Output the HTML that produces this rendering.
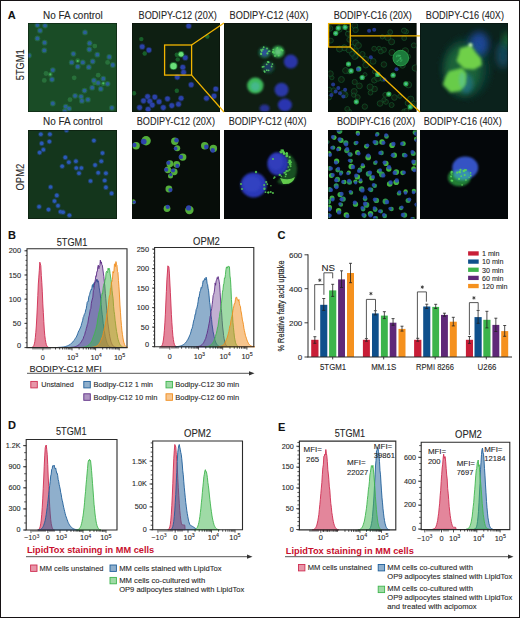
<!DOCTYPE html>
<html><head><meta charset="utf-8"><style>
html,body{margin:0;padding:0;background:#fff;}
svg{display:block;font-family:"Liberation Sans", sans-serif;}
</style></head><body>
<svg width="520" height="618" viewBox="0 0 520 618">
<rect width="520" height="618" fill="#fff"/>
<text x="7.8" y="18.6" font-size="11" font-weight="bold" fill="#111" stroke="#111" stroke-width="0.1">A</text>
<text x="8.1" y="238.8" font-size="11" font-weight="bold" fill="#111" stroke="#111" stroke-width="0.1">B</text>
<text x="277.6" y="239.2" font-size="11" font-weight="bold" fill="#111" stroke="#111" stroke-width="0.1">C</text>
<text x="8.1" y="429.3" font-size="11" font-weight="bold" fill="#111" stroke="#111" stroke-width="0.1">D</text>
<text x="278.1" y="430.6" font-size="11" font-weight="bold" fill="#111" stroke="#111" stroke-width="0.1">E</text>
<defs><filter id="b05" x="-50%" y="-50%" width="200%" height="200%"><feGaussianBlur stdDeviation="0.5"/></filter><filter id="b1" x="-50%" y="-50%" width="200%" height="200%"><feGaussianBlur stdDeviation="1"/></filter><filter id="b2" x="-50%" y="-50%" width="200%" height="200%"><feGaussianBlur stdDeviation="2"/></filter><filter id="b3" x="-50%" y="-50%" width="200%" height="200%"><feGaussianBlur stdDeviation="3.5"/></filter><filter id="bc" x="-10%" y="-10%" width="120%" height="120%"><feGaussianBlur stdDeviation="0.75"/></filter><filter id="b15" x="-50%" y="-50%" width="200%" height="200%"><feGaussianBlur stdDeviation="1.5"/></filter>
<clipPath id="c00"><rect x="28" y="23" width="89" height="89"/></clipPath>
<clipPath id="c01"><rect x="132" y="23" width="88" height="89"/></clipPath>
<clipPath id="c02"><rect x="224" y="23" width="88" height="89"/></clipPath>
<clipPath id="c03"><rect x="328" y="23" width="88.5" height="89"/></clipPath>
<clipPath id="c04"><rect x="420" y="23" width="88" height="89"/></clipPath>
<clipPath id="c10"><rect x="28" y="130" width="89" height="89"/></clipPath>
<clipPath id="c11"><rect x="132" y="130" width="88" height="89"/></clipPath>
<clipPath id="c12"><rect x="224" y="130" width="88" height="89"/></clipPath>
<clipPath id="c13"><rect x="328" y="130" width="88.5" height="89"/></clipPath>
<clipPath id="c14"><rect x="420" y="130" width="88" height="89"/></clipPath>
</defs>
<rect x="28" y="23" width="89" height="89" fill="#1a4c26"/>
<g clip-path="url(#c00)"><g filter="url(#bc)">
<circle cx="94.8" cy="46.1" r="2.4" fill="#2e7f45" opacity="0.7"/>
<circle cx="107.6" cy="62.4" r="2.4" fill="#2e7f45" opacity="0.7"/>
<circle cx="77.7" cy="60.7" r="2.4" fill="#2e7f45" opacity="0.7"/>
<circle cx="46.0" cy="73.5" r="2.4" fill="#2e7f45" opacity="0.7"/>
<circle cx="50.3" cy="74.4" r="2.4" fill="#2e7f45" opacity="0.7"/>
<circle cx="44.3" cy="80.4" r="2.4" fill="#2e7f45" opacity="0.7"/>
<circle cx="74.2" cy="77.8" r="2.4" fill="#2e7f45" opacity="0.7"/>
<circle cx="98.2" cy="75.2" r="2.4" fill="#2e7f45" opacity="0.7"/>
<circle cx="103.3" cy="83.8" r="2.4" fill="#2e7f45" opacity="0.7"/>
<circle cx="70.0" cy="99.7" r="2.4" fill="#2e7f45" opacity="0.7"/>
<circle cx="94.8" cy="82.9" r="2.4" fill="#2e7f45" opacity="0.7"/>
<circle cx="37.4" cy="25.1" r="2.9" fill="#2a7a5a" opacity="0.55"/>
<circle cx="37.4" cy="25.1" r="1.9" fill="#2c5ea8" opacity="0.85"/>
<circle cx="45.1" cy="25.6" r="2.9" fill="#2a7a5a" opacity="0.55"/>
<circle cx="45.1" cy="25.6" r="1.9" fill="#2c5ea8" opacity="0.85"/>
<circle cx="40.0" cy="30.7" r="2.9" fill="#2a7a5a" opacity="0.55"/>
<circle cx="40.0" cy="30.7" r="1.9" fill="#2c5ea8" opacity="0.85"/>
<circle cx="37.4" cy="38.4" r="2.9" fill="#2a7a5a" opacity="0.55"/>
<circle cx="37.4" cy="38.4" r="1.9" fill="#2c5ea8" opacity="0.85"/>
<circle cx="44.6" cy="42.7" r="2.9" fill="#2a7a5a" opacity="0.55"/>
<circle cx="44.6" cy="42.7" r="1.9" fill="#2c5ea8" opacity="0.85"/>
<circle cx="44.3" cy="50.4" r="2.9" fill="#2a7a5a" opacity="0.55"/>
<circle cx="44.3" cy="50.4" r="1.9" fill="#2c5ea8" opacity="0.85"/>
<circle cx="85.0" cy="32.4" r="2.9" fill="#2a7a5a" opacity="0.55"/>
<circle cx="85.0" cy="32.4" r="1.9" fill="#2c5ea8" opacity="0.85"/>
<circle cx="89.6" cy="43.2" r="2.9" fill="#2a7a5a" opacity="0.55"/>
<circle cx="89.6" cy="43.2" r="1.9" fill="#2c5ea8" opacity="0.85"/>
<circle cx="89.3" cy="49.5" r="2.9" fill="#2a7a5a" opacity="0.55"/>
<circle cx="89.3" cy="49.5" r="1.9" fill="#2c5ea8" opacity="0.85"/>
<circle cx="97.3" cy="54.7" r="2.9" fill="#2a7a5a" opacity="0.55"/>
<circle cx="97.3" cy="54.7" r="1.9" fill="#2c5ea8" opacity="0.85"/>
<circle cx="109.3" cy="56.9" r="2.9" fill="#2a7a5a" opacity="0.55"/>
<circle cx="109.3" cy="56.9" r="1.9" fill="#2c5ea8" opacity="0.85"/>
<circle cx="112.8" cy="65.0" r="2.9" fill="#2a7a5a" opacity="0.55"/>
<circle cx="112.8" cy="65.0" r="1.9" fill="#2c5ea8" opacity="0.85"/>
<circle cx="71.7" cy="62.4" r="2.9" fill="#2a7a5a" opacity="0.55"/>
<circle cx="71.7" cy="62.4" r="1.9" fill="#2c5ea8" opacity="0.85"/>
<circle cx="82.8" cy="62.4" r="2.9" fill="#2a7a5a" opacity="0.55"/>
<circle cx="82.8" cy="62.4" r="1.9" fill="#2c5ea8" opacity="0.85"/>
<circle cx="77.7" cy="66.7" r="2.9" fill="#2a7a5a" opacity="0.55"/>
<circle cx="77.7" cy="66.7" r="1.9" fill="#2c5ea8" opacity="0.85"/>
<circle cx="88.8" cy="67.2" r="2.9" fill="#2a7a5a" opacity="0.55"/>
<circle cx="88.8" cy="67.2" r="1.9" fill="#2c5ea8" opacity="0.85"/>
<circle cx="92.7" cy="61.5" r="2.9" fill="#2a7a5a" opacity="0.55"/>
<circle cx="92.7" cy="61.5" r="1.9" fill="#2c5ea8" opacity="0.85"/>
<circle cx="52.8" cy="70.1" r="2.9" fill="#2a7a5a" opacity="0.55"/>
<circle cx="52.8" cy="70.1" r="1.9" fill="#2c5ea8" opacity="0.85"/>
<circle cx="52.0" cy="79.5" r="2.9" fill="#2a7a5a" opacity="0.55"/>
<circle cx="52.0" cy="79.5" r="1.9" fill="#2c5ea8" opacity="0.85"/>
<circle cx="93.9" cy="80.4" r="2.9" fill="#2a7a5a" opacity="0.55"/>
<circle cx="93.9" cy="80.4" r="1.9" fill="#2c5ea8" opacity="0.85"/>
<circle cx="103.3" cy="78.7" r="2.9" fill="#2a7a5a" opacity="0.55"/>
<circle cx="103.3" cy="78.7" r="1.9" fill="#2c5ea8" opacity="0.85"/>
<circle cx="107.6" cy="83.8" r="2.9" fill="#2a7a5a" opacity="0.55"/>
<circle cx="107.6" cy="83.8" r="1.9" fill="#2c5ea8" opacity="0.85"/>
<circle cx="98.2" cy="82.9" r="2.9" fill="#2a7a5a" opacity="0.55"/>
<circle cx="98.2" cy="82.9" r="1.9" fill="#2c5ea8" opacity="0.85"/>
<circle cx="92.2" cy="87.7" r="2.9" fill="#2a7a5a" opacity="0.55"/>
<circle cx="92.2" cy="87.7" r="1.9" fill="#2c5ea8" opacity="0.85"/>
<circle cx="100.8" cy="88.9" r="2.9" fill="#2a7a5a" opacity="0.55"/>
<circle cx="100.8" cy="88.9" r="1.9" fill="#2c5ea8" opacity="0.85"/>
<circle cx="84.5" cy="90.6" r="2.9" fill="#2a7a5a" opacity="0.55"/>
<circle cx="84.5" cy="90.6" r="1.9" fill="#2c5ea8" opacity="0.85"/>
<circle cx="75.1" cy="95.8" r="2.9" fill="#2a7a5a" opacity="0.55"/>
<circle cx="75.1" cy="95.8" r="1.9" fill="#2c5ea8" opacity="0.85"/>
<circle cx="81.1" cy="96.6" r="2.9" fill="#2a7a5a" opacity="0.55"/>
<circle cx="81.1" cy="96.6" r="1.9" fill="#2c5ea8" opacity="0.85"/>
<circle cx="81.9" cy="100.9" r="2.9" fill="#2a7a5a" opacity="0.55"/>
<circle cx="81.9" cy="100.9" r="1.9" fill="#2c5ea8" opacity="0.85"/>
<circle cx="87.9" cy="99.7" r="2.9" fill="#2a7a5a" opacity="0.55"/>
<circle cx="87.9" cy="99.7" r="1.9" fill="#2c5ea8" opacity="0.85"/>
<circle cx="52.8" cy="103.5" r="2.9" fill="#2a7a5a" opacity="0.55"/>
<circle cx="52.8" cy="103.5" r="1.9" fill="#2c5ea8" opacity="0.85"/>
<circle cx="65.7" cy="106.6" r="2.9" fill="#2a7a5a" opacity="0.55"/>
<circle cx="65.7" cy="106.6" r="1.9" fill="#2c5ea8" opacity="0.85"/>
<circle cx="69.1" cy="108.6" r="2.9" fill="#2a7a5a" opacity="0.55"/>
<circle cx="69.1" cy="108.6" r="1.9" fill="#2c5ea8" opacity="0.85"/>
<circle cx="64.8" cy="111.2" r="2.9" fill="#2a7a5a" opacity="0.55"/>
<circle cx="64.8" cy="111.2" r="1.9" fill="#2c5ea8" opacity="0.85"/>
<circle cx="28.9" cy="55.5" r="2.9" fill="#2a7a5a" opacity="0.55"/>
<circle cx="28.9" cy="55.5" r="1.9" fill="#2c5ea8" opacity="0.85"/>
<circle cx="73.4" cy="53.8" r="2.9" fill="#2a7a5a" opacity="0.55"/>
<circle cx="73.4" cy="53.8" r="1.9" fill="#2c5ea8" opacity="0.85"/>
<circle cx="111.9" cy="107.8" r="2.9" fill="#2a7a5a" opacity="0.55"/>
<circle cx="111.9" cy="107.8" r="1.9" fill="#2c5ea8" opacity="0.85"/>
<circle cx="77.7" cy="61.0" r="1.1" fill="#4cc060"/>
<circle cx="103.3" cy="83.3" r="1.1" fill="#4cc060"/>
<circle cx="50.3" cy="74.4" r="1.1" fill="#4cc060"/>
</g></g>
<rect x="28.4" y="23.4" width="88.2" height="88.2" fill="none" stroke="#050a06" stroke-width="0.8" opacity="0.5"/>
<rect x="132" y="23" width="88" height="89" fill="#0e1f12"/>
<g clip-path="url(#c01)"><g filter="url(#bc)">
<circle cx="141.3" cy="39.1" r="2.2" fill="#1f7a35" opacity="0.7"/>
<circle cx="144.7" cy="53.5" r="2.2" fill="#1f7a35" opacity="0.7"/>
<circle cx="176.8" cy="90.7" r="2.2" fill="#1f7a35" opacity="0.7"/>
<circle cx="134.0" cy="93.2" r="2.2" fill="#1f7a35" opacity="0.7"/>
<circle cx="207.3" cy="36.5" r="2.2" fill="#1f7a35" opacity="0.7"/>
<circle cx="176.8" cy="54.8" r="2.2" fill="#1f7a35" opacity="0.7"/>
<circle cx="177.7" cy="59.4" r="2.2" fill="#1f7a35" opacity="0.7"/>
<circle cx="142.2" cy="46.7" r="3.1" fill="#283c98" opacity="0.5"/>
<circle cx="142.2" cy="46.7" r="2.3" fill="#2e46b8" opacity="0.85"/>
<circle cx="148.9" cy="50.1" r="3.1" fill="#283c98" opacity="0.5"/>
<circle cx="148.9" cy="50.1" r="2.3" fill="#2e46b8" opacity="0.85"/>
<circle cx="188.7" cy="26.0" r="3.1" fill="#283c98" opacity="0.5"/>
<circle cx="188.7" cy="26.0" r="2.3" fill="#2e46b8" opacity="0.85"/>
<circle cx="185.3" cy="57.7" r="3.1" fill="#283c98" opacity="0.5"/>
<circle cx="185.3" cy="57.7" r="2.3" fill="#2e46b8" opacity="0.85"/>
<circle cx="182.8" cy="67.3" r="3.1" fill="#283c98" opacity="0.5"/>
<circle cx="182.8" cy="67.3" r="2.3" fill="#2e46b8" opacity="0.85"/>
<circle cx="183.6" cy="72.4" r="3.1" fill="#283c98" opacity="0.5"/>
<circle cx="183.6" cy="72.4" r="2.3" fill="#2e46b8" opacity="0.85"/>
<circle cx="177.3" cy="77.1" r="3.1" fill="#283c98" opacity="0.5"/>
<circle cx="177.3" cy="77.1" r="2.3" fill="#2e46b8" opacity="0.85"/>
<circle cx="191.2" cy="84.8" r="3.1" fill="#283c98" opacity="0.5"/>
<circle cx="191.2" cy="84.8" r="2.3" fill="#2e46b8" opacity="0.85"/>
<circle cx="215.8" cy="89.0" r="3.1" fill="#283c98" opacity="0.5"/>
<circle cx="215.8" cy="89.0" r="2.3" fill="#2e46b8" opacity="0.85"/>
<circle cx="214.1" cy="96.1" r="3.1" fill="#283c98" opacity="0.5"/>
<circle cx="214.1" cy="96.1" r="2.3" fill="#2e46b8" opacity="0.85"/>
<circle cx="206.5" cy="98.3" r="3.1" fill="#283c98" opacity="0.5"/>
<circle cx="206.5" cy="98.3" r="2.3" fill="#2e46b8" opacity="0.85"/>
<circle cx="154.8" cy="97.1" r="3.1" fill="#283c98" opacity="0.5"/>
<circle cx="154.8" cy="97.1" r="2.3" fill="#2e46b8" opacity="0.85"/>
<circle cx="147.6" cy="96.6" r="3.1" fill="#283c98" opacity="0.5"/>
<circle cx="147.6" cy="96.6" r="2.3" fill="#2e46b8" opacity="0.85"/>
<circle cx="143.5" cy="100.8" r="3.1" fill="#283c98" opacity="0.5"/>
<circle cx="143.5" cy="100.8" r="2.3" fill="#2e46b8" opacity="0.85"/>
<circle cx="149.8" cy="101.2" r="3.1" fill="#283c98" opacity="0.5"/>
<circle cx="149.8" cy="101.2" r="2.3" fill="#2e46b8" opacity="0.85"/>
<circle cx="159.1" cy="101.7" r="3.1" fill="#283c98" opacity="0.5"/>
<circle cx="159.1" cy="101.7" r="2.3" fill="#2e46b8" opacity="0.85"/>
<circle cx="152.3" cy="105.1" r="3.1" fill="#283c98" opacity="0.5"/>
<circle cx="152.3" cy="105.1" r="2.3" fill="#2e46b8" opacity="0.85"/>
<circle cx="167.5" cy="98.8" r="3.1" fill="#283c98" opacity="0.5"/>
<circle cx="167.5" cy="98.8" r="2.3" fill="#2e46b8" opacity="0.85"/>
<circle cx="181.1" cy="98.3" r="3.1" fill="#283c98" opacity="0.5"/>
<circle cx="181.1" cy="98.3" r="2.3" fill="#2e46b8" opacity="0.85"/>
<circle cx="171.8" cy="105.6" r="3.1" fill="#283c98" opacity="0.5"/>
<circle cx="171.8" cy="105.6" r="2.3" fill="#2e46b8" opacity="0.85"/>
<circle cx="178.5" cy="104.2" r="3.1" fill="#283c98" opacity="0.5"/>
<circle cx="178.5" cy="104.2" r="2.3" fill="#2e46b8" opacity="0.85"/>
<circle cx="163.3" cy="107.6" r="3.1" fill="#283c98" opacity="0.5"/>
<circle cx="163.3" cy="107.6" r="2.3" fill="#2e46b8" opacity="0.85"/>
<circle cx="139.6" cy="107.6" r="3.1" fill="#283c98" opacity="0.5"/>
<circle cx="139.6" cy="107.6" r="2.3" fill="#2e46b8" opacity="0.85"/>
<circle cx="148.1" cy="109.3" r="3.1" fill="#283c98" opacity="0.5"/>
<circle cx="148.1" cy="109.3" r="2.3" fill="#2e46b8" opacity="0.85"/>
<circle cx="173.5" cy="66.1" r="4.0" fill="#2ea84a" opacity="0.6"/>
<circle cx="173.5" cy="66.1" r="3.2" fill="#6be07a"/>
<circle cx="181.1" cy="54.3" r="3.2" fill="#2ea84a" opacity="0.6"/>
<circle cx="181.1" cy="54.3" r="2.4" fill="#6be07a"/>
</g></g>
<rect x="132.4" y="23.4" width="87.2" height="88.2" fill="none" stroke="#050a06" stroke-width="0.8" opacity="0.5"/>
<rect x="224" y="23" width="88" height="89" fill="#0f1d12"/>
<g clip-path="url(#c02)"><g filter="url(#bc)">
<ellipse cx="290.8" cy="61.6" rx="7" ry="7" fill="#2a36a8" opacity="1" filter="url(#b1)"/>
<ellipse cx="281.5" cy="89.8" rx="7" ry="7" fill="#2a38a8" opacity="1" filter="url(#b1)"/>
<ellipse cx="284.9" cy="105" rx="7" ry="6.5" fill="#2a36b0" opacity="1" filter="url(#b1)"/>
<ellipse cx="264.6" cy="108.4" rx="5" ry="4" fill="#2a36a0" opacity="0.9" filter="url(#b1)"/>
<ellipse cx="264.6" cy="52.6" rx="6.3" ry="6" fill="#1a5a3a" opacity="1" filter="url(#b1)"/>
<ellipse cx="278.1" cy="51.8" rx="6.3" ry="6" fill="#2f9a4a" opacity="1" filter="url(#b1)"/>
<ellipse cx="268.3" cy="67.3" rx="6.6" ry="6.4" fill="#12402a" opacity="1" filter="url(#b1)"/>
<ellipse cx="255.3" cy="85.6" rx="8.2" ry="8" fill="#3cb85a" opacity="1" filter="url(#b1)"/>
<ellipse cx="255.3" cy="86.5" rx="4.5" ry="4.5" fill="#48b8a0" opacity="0.7" filter="url(#b1)"/>
<ellipse cx="278.1" cy="51.8" rx="3.5" ry="3.5" fill="#6ac880" opacity="0.9" filter="url(#b1)"/>
<ellipse cx="264.6" cy="52.6" rx="3.8" ry="3.8" fill="#3050b0" opacity="0.8" filter="url(#b1)"/>
<ellipse cx="268.3" cy="67.3" rx="4" ry="4" fill="#203a70" opacity="0.8" filter="url(#b1)"/>
<circle cx="269.7" cy="51.1" r="0.9" fill="#58d060" opacity="0.9"/>
<circle cx="267.4" cy="53.6" r="0.9" fill="#58d060" opacity="0.9"/>
<circle cx="267.0" cy="48.5" r="0.9" fill="#58d060" opacity="0.9"/>
<circle cx="262.9" cy="49.5" r="0.9" fill="#58d060" opacity="0.9"/>
<circle cx="261.1" cy="49.9" r="0.9" fill="#58d060" opacity="0.9"/>
<circle cx="261.8" cy="51.0" r="0.9" fill="#58d060" opacity="0.9"/>
<circle cx="261.1" cy="54.2" r="0.9" fill="#58d060" opacity="0.9"/>
<circle cx="263.7" cy="47.2" r="0.9" fill="#58d060" opacity="0.9"/>
<circle cx="268.6" cy="51.3" r="0.9" fill="#58d060" opacity="0.9"/>
<circle cx="261.3" cy="53.8" r="0.9" fill="#58d060" opacity="0.9"/>
<circle cx="267.4" cy="53.2" r="0.9" fill="#58d060" opacity="0.9"/>
<circle cx="261.1" cy="53.4" r="0.9" fill="#58d060" opacity="0.9"/>
<circle cx="264.3" cy="71.1" r="0.9" fill="#58d060" opacity="0.9"/>
<circle cx="263.8" cy="66.6" r="0.9" fill="#58d060" opacity="0.9"/>
<circle cx="268.6" cy="70.3" r="0.9" fill="#58d060" opacity="0.9"/>
<circle cx="266.8" cy="70.2" r="0.9" fill="#58d060" opacity="0.9"/>
<circle cx="262.5" cy="66.9" r="0.9" fill="#58d060" opacity="0.9"/>
<circle cx="266.7" cy="64.3" r="0.9" fill="#58d060" opacity="0.9"/>
<circle cx="272.4" cy="64.1" r="0.9" fill="#58d060" opacity="0.9"/>
<circle cx="267.7" cy="61.8" r="0.9" fill="#58d060" opacity="0.9"/>
<circle cx="268.7" cy="62.1" r="0.9" fill="#58d060" opacity="0.9"/>
<circle cx="264.8" cy="71.9" r="0.9" fill="#58d060" opacity="0.9"/>
<circle cx="271.6" cy="66.5" r="0.9" fill="#58d060" opacity="0.9"/>
<circle cx="268.4" cy="62.3" r="0.9" fill="#58d060" opacity="0.9"/>
<circle cx="274.0" cy="52.8" r="0.9" fill="#58d060" opacity="0.9"/>
<circle cx="272.8" cy="52.1" r="0.9" fill="#58d060" opacity="0.9"/>
<circle cx="273.1" cy="51.8" r="0.9" fill="#58d060" opacity="0.9"/>
<circle cx="275.0" cy="55.9" r="0.9" fill="#58d060" opacity="0.9"/>
<circle cx="281.3" cy="49.4" r="0.9" fill="#58d060" opacity="0.9"/>
<circle cx="273.3" cy="49.6" r="0.9" fill="#58d060" opacity="0.9"/>
<circle cx="277.4" cy="47.8" r="0.9" fill="#58d060" opacity="0.9"/>
<circle cx="278.7" cy="55.4" r="0.9" fill="#58d060" opacity="0.9"/>
<circle cx="277.1" cy="48.8" r="0.9" fill="#58d060" opacity="0.9"/>
<circle cx="281.0" cy="49.9" r="0.9" fill="#58d060" opacity="0.9"/>
<circle cx="281.2" cy="49.9" r="0.9" fill="#58d060" opacity="0.9"/>
<circle cx="282.6" cy="50.5" r="0.9" fill="#58d060" opacity="0.9"/>
</g></g>
<rect x="224.4" y="23.4" width="87.2" height="88.2" fill="none" stroke="#050a06" stroke-width="0.8" opacity="0.5"/>
<rect x="328" y="23" width="88.5" height="89" fill="#06100b"/>
<g clip-path="url(#c03)"><g filter="url(#bc)">
<circle cx="349.2" cy="71.5" r="2.4" fill="#0a2214" stroke="#185a2c" stroke-width="0.9" opacity="0.75"/>
<circle cx="381.8" cy="78.7" r="2.1" fill="#0a2214" stroke="#185a2c" stroke-width="0.9" opacity="0.75"/>
<circle cx="329.2" cy="97.6" r="2.3" fill="#0a2214" stroke="#185a2c" stroke-width="0.9" opacity="0.75"/>
<circle cx="348.9" cy="111.7" r="2.6" fill="#0a2214" stroke="#185a2c" stroke-width="0.9" opacity="0.75"/>
<circle cx="402.5" cy="65.4" r="2.8" fill="#0a2214" stroke="#185a2c" stroke-width="0.9" opacity="0.75"/>
<circle cx="341.4" cy="79.5" r="3.0" fill="#0a2214" stroke="#185a2c" stroke-width="0.9" opacity="0.75"/>
<circle cx="374.6" cy="89.0" r="2.8" fill="#0a2214" stroke="#185a2c" stroke-width="0.9" opacity="0.75"/>
<circle cx="333.7" cy="90.5" r="2.7" fill="#0a2214" stroke="#185a2c" stroke-width="0.9" opacity="0.75"/>
<circle cx="354.8" cy="25.8" r="3.0" fill="#0a2214" stroke="#185a2c" stroke-width="0.9" opacity="0.75"/>
<circle cx="370.1" cy="87.0" r="3.1" fill="#0a2214" stroke="#185a2c" stroke-width="0.9" opacity="0.75"/>
<circle cx="391.6" cy="105.0" r="2.5" fill="#0a2214" stroke="#185a2c" stroke-width="0.9" opacity="0.75"/>
<circle cx="399.3" cy="62.6" r="3.1" fill="#0a2214" stroke="#185a2c" stroke-width="0.9" opacity="0.75"/>
<circle cx="406.3" cy="31.7" r="2.2" fill="#0a2214" stroke="#185a2c" stroke-width="0.9" opacity="0.75"/>
<circle cx="347.3" cy="109.0" r="2.5" fill="#0a2214" stroke="#185a2c" stroke-width="0.9" opacity="0.75"/>
<circle cx="383.8" cy="49.8" r="2.6" fill="#0a2214" stroke="#185a2c" stroke-width="0.9" opacity="0.75"/>
<circle cx="362.4" cy="54.2" r="2.7" fill="#0a2214" stroke="#185a2c" stroke-width="0.9" opacity="0.75"/>
<circle cx="380.0" cy="103.5" r="2.8" fill="#0a2214" stroke="#185a2c" stroke-width="0.9" opacity="0.75"/>
<circle cx="410.7" cy="99.3" r="3.2" fill="#0a2214" stroke="#185a2c" stroke-width="0.9" opacity="0.75"/>
<circle cx="387.8" cy="37.5" r="3.0" fill="#0a2214" stroke="#185a2c" stroke-width="0.9" opacity="0.75"/>
<circle cx="413.9" cy="103.6" r="2.7" fill="#0a2214" stroke="#185a2c" stroke-width="0.9" opacity="0.75"/>
<circle cx="391.6" cy="41.8" r="3.0" fill="#0a2214" stroke="#185a2c" stroke-width="0.9" opacity="0.75"/>
<circle cx="379.1" cy="48.4" r="2.1" fill="#0a2214" stroke="#185a2c" stroke-width="0.9" opacity="0.75"/>
<circle cx="404.0" cy="111.1" r="2.1" fill="#0a2214" stroke="#185a2c" stroke-width="0.9" opacity="0.75"/>
<circle cx="399.3" cy="59.5" r="2.2" fill="#0a2214" stroke="#185a2c" stroke-width="0.9" opacity="0.75"/>
<circle cx="354.2" cy="91.5" r="3.0" fill="#0a2214" stroke="#185a2c" stroke-width="0.9" opacity="0.75"/>
<circle cx="331.9" cy="77.7" r="2.1" fill="#0a2214" stroke="#185a2c" stroke-width="0.9" opacity="0.75"/>
<circle cx="392.0" cy="52.5" r="3.1" fill="#0a2214" stroke="#185a2c" stroke-width="0.9" opacity="0.75"/>
<circle cx="415.3" cy="68.0" r="3.2" fill="#0a2214" stroke="#185a2c" stroke-width="0.9" opacity="0.75"/>
<circle cx="355.6" cy="29.9" r="2.7" fill="#0a2214" stroke="#185a2c" stroke-width="0.9" opacity="0.75"/>
<circle cx="330.8" cy="40.6" r="2.5" fill="#0a2214" stroke="#185a2c" stroke-width="0.9" opacity="0.75"/>
<circle cx="382.4" cy="36.9" r="2.1" fill="#0a2214" stroke="#185a2c" stroke-width="0.9" opacity="0.75"/>
<circle cx="405.3" cy="50.9" r="3.2" fill="#0a2214" stroke="#185a2c" stroke-width="0.9" opacity="0.75"/>
<circle cx="407.8" cy="56.6" r="2.6" fill="#0a2214" stroke="#185a2c" stroke-width="0.9" opacity="0.75"/>
<circle cx="374.3" cy="80.3" r="2.7" fill="#0a2214" stroke="#185a2c" stroke-width="0.9" opacity="0.75"/>
<circle cx="377.8" cy="78.2" r="3.1" fill="#0a2214" stroke="#185a2c" stroke-width="0.9" opacity="0.75"/>
<circle cx="373.1" cy="61.4" r="2.9" fill="#0a2214" stroke="#185a2c" stroke-width="0.9" opacity="0.75"/>
<circle cx="349.2" cy="49.8" r="3.2" fill="#0a2214" stroke="#185a2c" stroke-width="0.9" opacity="0.75"/>
<circle cx="374.4" cy="71.8" r="2.0" fill="#0a2214" stroke="#185a2c" stroke-width="0.9" opacity="0.75"/>
<circle cx="365.0" cy="74.6" r="2.0" fill="#0a2214" stroke="#185a2c" stroke-width="0.9" opacity="0.75"/>
<circle cx="382.8" cy="79.3" r="2.1" fill="#0a2214" stroke="#185a2c" stroke-width="0.9" opacity="0.75"/>
<circle cx="383.9" cy="64.5" r="2.8" fill="#0a2214" stroke="#185a2c" stroke-width="0.9" opacity="0.75"/>
<circle cx="359.4" cy="85.9" r="2.9" fill="#0a2214" stroke="#185a2c" stroke-width="0.9" opacity="0.75"/>
<circle cx="330.0" cy="28.4" r="2.8" fill="#0a2214" stroke="#185a2c" stroke-width="0.9" opacity="0.75"/>
<circle cx="413.8" cy="45.4" r="2.5" fill="#0a2214" stroke="#185a2c" stroke-width="0.9" opacity="0.75"/>
<circle cx="380.8" cy="51.5" r="2.4" fill="#0a2214" stroke="#185a2c" stroke-width="0.9" opacity="0.75"/>
<circle cx="355.8" cy="55.9" r="2.7" fill="#0a2214" stroke="#185a2c" stroke-width="0.9" opacity="0.75"/>
<circle cx="354.7" cy="56.6" r="2.9" fill="#0a2214" stroke="#185a2c" stroke-width="0.9" opacity="0.75"/>
<circle cx="330.4" cy="73.7" r="2.9" fill="#0a2214" stroke="#185a2c" stroke-width="0.9" opacity="0.75"/>
<circle cx="355.6" cy="42.8" r="3.0" fill="#0a2214" stroke="#185a2c" stroke-width="0.9" opacity="0.75"/>
<circle cx="349.3" cy="39.7" r="2.5" fill="#0a2214" stroke="#185a2c" stroke-width="0.9" opacity="0.75"/>
<circle cx="390.2" cy="32.1" r="2.4" fill="#0a2214" stroke="#185a2c" stroke-width="0.9" opacity="0.75"/>
<circle cx="357.7" cy="97.2" r="2.5" fill="#0a2214" stroke="#185a2c" stroke-width="0.9" opacity="0.75"/>
<circle cx="404.2" cy="38.1" r="2.4" fill="#0a2214" stroke="#185a2c" stroke-width="0.9" opacity="0.75"/>
<circle cx="385.9" cy="101.8" r="2.5" fill="#0a2214" stroke="#185a2c" stroke-width="0.9" opacity="0.75"/>
<circle cx="348.0" cy="33.8" r="2.6" fill="#0a2214" stroke="#185a2c" stroke-width="0.9" opacity="0.75"/>
<circle cx="345.0" cy="94.8" r="3.0" fill="#0a2214" stroke="#185a2c" stroke-width="0.9" opacity="0.75"/>
<circle cx="344.3" cy="47.8" r="3.0" fill="#0a2214" stroke="#185a2c" stroke-width="0.9" opacity="0.75"/>
<circle cx="385.2" cy="94.8" r="2.4" fill="#0a2214" stroke="#185a2c" stroke-width="0.9" opacity="0.75"/>
<circle cx="339.5" cy="49.0" r="3.0" fill="#0a2214" stroke="#185a2c" stroke-width="0.9" opacity="0.75"/>
<circle cx="352.1" cy="53.8" r="2.5" fill="#0a2214" stroke="#185a2c" stroke-width="0.9" opacity="0.75"/>
<circle cx="365.4" cy="59.5" r="3.1" fill="#0a2214" stroke="#185a2c" stroke-width="0.9" opacity="0.75"/>
<circle cx="341.9" cy="23.4" r="3.1" fill="#0a2214" stroke="#185a2c" stroke-width="0.9" opacity="0.75"/>
<circle cx="406.4" cy="110.9" r="2.5" fill="#0a2214" stroke="#185a2c" stroke-width="0.9" opacity="0.75"/>
<circle cx="412.6" cy="105.6" r="2.3" fill="#0a2214" stroke="#185a2c" stroke-width="0.9" opacity="0.75"/>
<circle cx="394.4" cy="97.5" r="2.8" fill="#0a2214" stroke="#185a2c" stroke-width="0.9" opacity="0.75"/>
<circle cx="374.2" cy="48.7" r="2.4" fill="#0a2214" stroke="#185a2c" stroke-width="0.9" opacity="0.75"/>
<circle cx="348.3" cy="29.1" r="2.7" fill="#0a2214" stroke="#185a2c" stroke-width="0.9" opacity="0.75"/>
<circle cx="353.6" cy="95.1" r="2.1" fill="#0a2214" stroke="#185a2c" stroke-width="0.9" opacity="0.75"/>
<circle cx="408.5" cy="84.8" r="3.1" fill="#0a2214" stroke="#185a2c" stroke-width="0.9" opacity="0.75"/>
<circle cx="407.8" cy="103.1" r="2.7" fill="#0a2214" stroke="#185a2c" stroke-width="0.9" opacity="0.75"/>
<circle cx="329.2" cy="89.4" r="2.2" fill="#0a2214" stroke="#185a2c" stroke-width="0.9" opacity="0.75"/>
<circle cx="354.7" cy="82.0" r="2.6" fill="#0a2214" stroke="#185a2c" stroke-width="0.9" opacity="0.75"/>
<circle cx="364.8" cy="106.6" r="2.7" fill="#0a2214" stroke="#185a2c" stroke-width="0.9" opacity="0.75"/>
<circle cx="358.4" cy="45.5" r="3.0" fill="#0a2214" stroke="#185a2c" stroke-width="0.9" opacity="0.75"/>
<circle cx="370.5" cy="92.7" r="2.4" fill="#0a2214" stroke="#185a2c" stroke-width="0.9" opacity="0.75"/>
<circle cx="345.6" cy="70.6" r="3.0" fill="#0a2214" stroke="#185a2c" stroke-width="0.9" opacity="0.75"/>
<circle cx="343.3" cy="93.5" r="3.1" fill="#0a2214" stroke="#185a2c" stroke-width="0.9" opacity="0.75"/>
<circle cx="399.8" cy="96.3" r="2.0" fill="#0a2214" stroke="#185a2c" stroke-width="0.9" opacity="0.75"/>
<circle cx="384.0" cy="99.8" r="2.1" fill="#0a2214" stroke="#185a2c" stroke-width="0.9" opacity="0.75"/>
<circle cx="352.2" cy="46.9" r="2.6" fill="#0a2214" stroke="#185a2c" stroke-width="0.9" opacity="0.75"/>
<circle cx="365.7" cy="65.1" r="2.9" fill="#0a2214" stroke="#185a2c" stroke-width="0.9" opacity="0.75"/>
<circle cx="328.2" cy="27.9" r="2.2" fill="#0a2214" stroke="#185a2c" stroke-width="0.9" opacity="0.75"/>
<circle cx="339.1" cy="29.1" r="3.2" fill="#0a2214" stroke="#185a2c" stroke-width="0.9" opacity="0.75"/>
<circle cx="404.1" cy="30.7" r="2.6" fill="#0a2214" stroke="#185a2c" stroke-width="0.9" opacity="0.75"/>
<circle cx="356.1" cy="51.0" r="2.4" fill="#0a2214" stroke="#185a2c" stroke-width="0.9" opacity="0.75"/>
<circle cx="400.8" cy="58.1" r="7.8" fill="#1c7a3a" stroke="#2a9a48" stroke-width="1"/>
<circle cx="398.7" cy="55.3" r="0.8" fill="#3ab060" opacity="0.8"/>
<circle cx="400.1" cy="59.0" r="0.8" fill="#3ab060" opacity="0.8"/>
<circle cx="400.4" cy="58.8" r="0.8" fill="#3ab060" opacity="0.8"/>
<circle cx="396.8" cy="56.6" r="0.8" fill="#3ab060" opacity="0.8"/>
<circle cx="400.5" cy="58.4" r="0.8" fill="#3ab060" opacity="0.8"/>
<circle cx="401.8" cy="60.1" r="0.8" fill="#3ab060" opacity="0.8"/>
<circle cx="397.1" cy="55.2" r="0.8" fill="#3ab060" opacity="0.8"/>
<circle cx="397.3" cy="61.4" r="0.8" fill="#3ab060" opacity="0.8"/>
<circle cx="398.9" cy="56.3" r="0.8" fill="#3ab060" opacity="0.8"/>
<circle cx="398.7" cy="60.2" r="0.8" fill="#3ab060" opacity="0.8"/>
<circle cx="400.1" cy="55.7" r="0.8" fill="#3ab060" opacity="0.8"/>
<circle cx="399.8" cy="55.5" r="0.8" fill="#3ab060" opacity="0.8"/>
<circle cx="400.9" cy="61.3" r="0.8" fill="#3ab060" opacity="0.8"/>
<circle cx="400.7" cy="57.7" r="0.8" fill="#3ab060" opacity="0.8"/>
<circle cx="351.1" cy="70.9" r="2.6" fill="#2fb04a" opacity="0.9"/>
<circle cx="351.1" cy="70.9" r="1.4" fill="#50c8a0" opacity="0.9"/>
<circle cx="362.2" cy="77.5" r="2.6" fill="#2fb04a" opacity="0.9"/>
<circle cx="362.2" cy="77.5" r="1.4" fill="#50c8a0" opacity="0.9"/>
<circle cx="358.8" cy="68.9" r="2.6" fill="#2fb04a" opacity="0.9"/>
<circle cx="358.8" cy="68.9" r="1.4" fill="#50c8a0" opacity="0.9"/>
<circle cx="393.1" cy="75.2" r="2.6" fill="#2fb04a" opacity="0.9"/>
<circle cx="393.1" cy="75.2" r="1.4" fill="#50c8a0" opacity="0.9"/>
<circle cx="405.9" cy="83.8" r="2.6" fill="#2fb04a" opacity="0.9"/>
<circle cx="405.9" cy="83.8" r="1.4" fill="#50c8a0" opacity="0.9"/>
<circle cx="356.3" cy="101.8" r="2.6" fill="#2fb04a" opacity="0.9"/>
<circle cx="356.3" cy="101.8" r="1.4" fill="#50c8a0" opacity="0.9"/>
<circle cx="410.2" cy="106.9" r="2.6" fill="#2fb04a" opacity="0.9"/>
<circle cx="410.2" cy="106.9" r="1.4" fill="#50c8a0" opacity="0.9"/>
<circle cx="388.8" cy="94.1" r="2.6" fill="#2fb04a" opacity="0.9"/>
<circle cx="388.8" cy="94.1" r="1.4" fill="#50c8a0" opacity="0.9"/>
<circle cx="348.5" cy="64.1" r="2.6" fill="#2fb04a" opacity="0.9"/>
<circle cx="348.5" cy="64.1" r="1.4" fill="#50c8a0" opacity="0.9"/>
<circle cx="338.3" cy="28.1" r="2.6" fill="#2fb04a" opacity="0.9"/>
<circle cx="338.3" cy="28.1" r="1.4" fill="#50c8a0" opacity="0.9"/>
<circle cx="345.1" cy="27.3" r="2.6" fill="#2fb04a" opacity="0.9"/>
<circle cx="345.1" cy="27.3" r="1.4" fill="#50c8a0" opacity="0.9"/>
<circle cx="335.7" cy="33.3" r="2.6" fill="#2fb04a" opacity="0.9"/>
<circle cx="335.7" cy="33.3" r="1.4" fill="#50c8a0" opacity="0.9"/>
<circle cx="377.7" cy="74.4" r="2.6" fill="#2fb04a" opacity="0.9"/>
<circle cx="377.7" cy="74.4" r="1.4" fill="#50c8a0" opacity="0.9"/>
<circle cx="333.1" cy="84.6" r="2" fill="#2840a8" opacity="0.8"/>
<circle cx="335.7" cy="91.5" r="2" fill="#2840a8" opacity="0.8"/>
<circle cx="340.0" cy="93.2" r="2" fill="#2840a8" opacity="0.8"/>
<circle cx="343.4" cy="96.6" r="2" fill="#2840a8" opacity="0.8"/>
<circle cx="331.4" cy="94.9" r="2" fill="#2840a8" opacity="0.8"/>
<circle cx="338.3" cy="88.1" r="2" fill="#2840a8" opacity="0.8"/>
<circle cx="345.1" cy="89.8" r="2" fill="#2840a8" opacity="0.8"/>
<circle cx="358.0" cy="69.2" r="2" fill="#2840a8" opacity="0.8"/>
<circle cx="370.8" cy="57.2" r="2" fill="#2840a8" opacity="0.8"/>
<circle cx="374.2" cy="29.8" r="2" fill="#2840a8" opacity="0.8"/>
<circle cx="396.5" cy="69.2" r="2" fill="#2840a8" opacity="0.8"/>
<circle cx="384.5" cy="79.5" r="2" fill="#2840a8" opacity="0.8"/>
<circle cx="369.1" cy="30.7" r="2" fill="#2840a8" opacity="0.8"/>
</g></g>
<rect x="328.4" y="23.4" width="87.7" height="88.2" fill="none" stroke="#050a06" stroke-width="0.8" opacity="0.5"/>
<rect x="420" y="23" width="88" height="89" fill="#0b221c"/>
<g clip-path="url(#c04)"><g filter="url(#bc)">
<ellipse cx="466" cy="68" rx="24" ry="30" fill="#0f4a40" opacity="0.6" filter="url(#b3)"/>
<ellipse cx="479" cy="44" rx="10" ry="12" fill="#1a4aa0" opacity="0.9" filter="url(#b3)"/>
<ellipse cx="503" cy="55" rx="7" ry="13" fill="#14506a" opacity="0.8" filter="url(#b3)"/>
<ellipse cx="507" cy="40" rx="4" ry="8" fill="#1a7a40" opacity="0.8" filter="url(#b3)"/>
<ellipse cx="466" cy="83" rx="7" ry="10" fill="#1a5ab0" opacity="0.9" filter="url(#b2)"/>
<ellipse cx="463" cy="70" rx="18" ry="25" fill="#2a8a40" opacity="0.5" filter="url(#b3)"/>
<path d="M459.8,48.4 L470.8,45 L475.8,52.6 L481.1,58.5 L481.9,65.3 L474.1,69.5 L464,68.7 L456.4,61.1 L458.9,53.5 Z" fill="#70d048" filter="url(#b15)"/>
<path d="M448.8,71.2 L462.3,67.8 L466.5,73.8 L465.7,83.9 L460.6,90.7 L450.5,92.4 L442.8,84.8 L445.4,77.1 Z" fill="#68cc48" filter="url(#b15)"/>
<ellipse cx="462" cy="80" rx="3" ry="8" fill="#58c0a0" opacity="0.6" filter="url(#b15)"/>
<circle cx="470.5" cy="45" r="2" fill="#c0f0b0" filter="url(#b1)"/>
</g></g>
<rect x="420.4" y="23.4" width="87.2" height="88.2" fill="none" stroke="#050a06" stroke-width="0.8" opacity="0.5"/>
<rect x="28" y="130" width="89" height="89" fill="#14361c"/>
<g clip-path="url(#c10)"><g filter="url(#bc)">
<circle cx="40.8" cy="134.3" r="2.6" fill="#28509a" opacity="0.5"/>
<circle cx="40.8" cy="134.3" r="1.8" fill="#2e5cc4" opacity="0.9"/>
<circle cx="49.9" cy="134.3" r="2.6" fill="#28509a" opacity="0.5"/>
<circle cx="49.9" cy="134.3" r="1.8" fill="#2e5cc4" opacity="0.9"/>
<circle cx="41.7" cy="143.4" r="2.6" fill="#28509a" opacity="0.5"/>
<circle cx="41.7" cy="143.4" r="1.8" fill="#2e5cc4" opacity="0.9"/>
<circle cx="49.4" cy="141.6" r="2.6" fill="#28509a" opacity="0.5"/>
<circle cx="49.4" cy="141.6" r="1.8" fill="#2e5cc4" opacity="0.9"/>
<circle cx="43.4" cy="149.7" r="2.6" fill="#28509a" opacity="0.5"/>
<circle cx="43.4" cy="149.7" r="1.8" fill="#2e5cc4" opacity="0.9"/>
<circle cx="39.6" cy="152.6" r="2.6" fill="#28509a" opacity="0.5"/>
<circle cx="39.6" cy="152.6" r="1.8" fill="#2e5cc4" opacity="0.9"/>
<circle cx="93.9" cy="140.6" r="2.6" fill="#28509a" opacity="0.5"/>
<circle cx="93.9" cy="140.6" r="1.8" fill="#2e5cc4" opacity="0.9"/>
<circle cx="102.5" cy="153.1" r="2.6" fill="#28509a" opacity="0.5"/>
<circle cx="102.5" cy="153.1" r="1.8" fill="#2e5cc4" opacity="0.9"/>
<circle cx="65.3" cy="157.4" r="2.6" fill="#28509a" opacity="0.5"/>
<circle cx="65.3" cy="157.4" r="1.8" fill="#2e5cc4" opacity="0.9"/>
<circle cx="68.8" cy="162.2" r="2.6" fill="#28509a" opacity="0.5"/>
<circle cx="68.8" cy="162.2" r="1.8" fill="#2e5cc4" opacity="0.9"/>
<circle cx="75.9" cy="161.2" r="2.6" fill="#28509a" opacity="0.5"/>
<circle cx="75.9" cy="161.2" r="1.8" fill="#2e5cc4" opacity="0.9"/>
<circle cx="62.2" cy="166.3" r="2.6" fill="#28509a" opacity="0.5"/>
<circle cx="62.2" cy="166.3" r="1.8" fill="#2e5cc4" opacity="0.9"/>
<circle cx="76.3" cy="168.0" r="2.6" fill="#28509a" opacity="0.5"/>
<circle cx="76.3" cy="168.0" r="1.8" fill="#2e5cc4" opacity="0.9"/>
<circle cx="81.4" cy="168.0" r="2.6" fill="#28509a" opacity="0.5"/>
<circle cx="81.4" cy="168.0" r="1.8" fill="#2e5cc4" opacity="0.9"/>
<circle cx="79.0" cy="173.2" r="2.6" fill="#28509a" opacity="0.5"/>
<circle cx="79.0" cy="173.2" r="1.8" fill="#2e5cc4" opacity="0.9"/>
<circle cx="95.1" cy="165.1" r="2.6" fill="#28509a" opacity="0.5"/>
<circle cx="95.1" cy="165.1" r="1.8" fill="#2e5cc4" opacity="0.9"/>
<circle cx="101.3" cy="161.2" r="2.6" fill="#28509a" opacity="0.5"/>
<circle cx="101.3" cy="161.2" r="1.8" fill="#2e5cc4" opacity="0.9"/>
<circle cx="98.2" cy="172.8" r="2.6" fill="#28509a" opacity="0.5"/>
<circle cx="98.2" cy="172.8" r="1.8" fill="#2e5cc4" opacity="0.9"/>
<circle cx="105.9" cy="173.2" r="2.6" fill="#28509a" opacity="0.5"/>
<circle cx="105.9" cy="173.2" r="1.8" fill="#2e5cc4" opacity="0.9"/>
<circle cx="90.5" cy="181.0" r="2.6" fill="#28509a" opacity="0.5"/>
<circle cx="90.5" cy="181.0" r="1.8" fill="#2e5cc4" opacity="0.9"/>
<circle cx="104.7" cy="180.5" r="2.6" fill="#28509a" opacity="0.5"/>
<circle cx="104.7" cy="180.5" r="1.8" fill="#2e5cc4" opacity="0.9"/>
<circle cx="105.9" cy="187.4" r="2.6" fill="#28509a" opacity="0.5"/>
<circle cx="105.9" cy="187.4" r="1.8" fill="#2e5cc4" opacity="0.9"/>
<circle cx="111.6" cy="193.4" r="2.6" fill="#28509a" opacity="0.5"/>
<circle cx="111.6" cy="193.4" r="1.8" fill="#2e5cc4" opacity="0.9"/>
<circle cx="50.6" cy="187.0" r="2.6" fill="#28509a" opacity="0.5"/>
<circle cx="50.6" cy="187.0" r="1.8" fill="#2e5cc4" opacity="0.9"/>
<circle cx="56.8" cy="195.4" r="2.6" fill="#28509a" opacity="0.5"/>
<circle cx="56.8" cy="195.4" r="1.8" fill="#2e5cc4" opacity="0.9"/>
<circle cx="54.5" cy="201.1" r="2.6" fill="#28509a" opacity="0.5"/>
<circle cx="54.5" cy="201.1" r="1.8" fill="#2e5cc4" opacity="0.9"/>
<circle cx="58.0" cy="205.7" r="2.6" fill="#28509a" opacity="0.5"/>
<circle cx="58.0" cy="205.7" r="1.8" fill="#2e5cc4" opacity="0.9"/>
<circle cx="39.1" cy="206.7" r="2.6" fill="#28509a" opacity="0.5"/>
<circle cx="39.1" cy="206.7" r="1.8" fill="#2e5cc4" opacity="0.9"/>
<circle cx="48.5" cy="209.6" r="2.6" fill="#28509a" opacity="0.5"/>
<circle cx="48.5" cy="209.6" r="1.8" fill="#2e5cc4" opacity="0.9"/>
<circle cx="60.5" cy="211.8" r="2.6" fill="#28509a" opacity="0.5"/>
<circle cx="60.5" cy="211.8" r="1.8" fill="#2e5cc4" opacity="0.9"/>
<circle cx="63.1" cy="212.2" r="2.6" fill="#28509a" opacity="0.5"/>
<circle cx="63.1" cy="212.2" r="1.8" fill="#2e5cc4" opacity="0.9"/>
<circle cx="69.4" cy="215.3" r="2.6" fill="#28509a" opacity="0.5"/>
<circle cx="69.4" cy="215.3" r="1.8" fill="#2e5cc4" opacity="0.9"/>
<circle cx="66.5" cy="130.3" r="2.6" fill="#28509a" opacity="0.5"/>
<circle cx="66.5" cy="130.3" r="1.8" fill="#2e5cc4" opacity="0.9"/>
</g></g>
<rect x="28.4" y="130.4" width="88.2" height="88.2" fill="none" stroke="#050a06" stroke-width="0.8" opacity="0.5"/>
<rect x="132" y="130" width="88" height="89" fill="#070d09"/>
<g clip-path="url(#c11)"><g filter="url(#bc)">
<circle cx="146.1" cy="140.8" r="4.7" fill="#5cc040" opacity="0.9"/>
<circle cx="143.7" cy="141.6" r="2.9" fill="#2a3ab8" opacity="0.9"/>
<circle cx="136.1" cy="145.7" r="3.7" fill="#5cc040" opacity="0.9"/>
<circle cx="134.3" cy="145.0" r="2.3" fill="#2a3ab8" opacity="0.9"/>
<circle cx="174.8" cy="141.2" r="3.7" fill="#5cc040" opacity="0.9"/>
<circle cx="176.5" cy="140.3" r="2.3" fill="#2a3ab8" opacity="0.9"/>
<circle cx="177.2" cy="148.2" r="3.0" fill="#5cc040" opacity="0.9"/>
<circle cx="175.6" cy="148.5" r="1.9" fill="#2a3ab8" opacity="0.9"/>
<circle cx="182.7" cy="157.1" r="3.7" fill="#5cc040" opacity="0.9"/>
<circle cx="180.8" cy="157.0" r="2.3" fill="#2a3ab8" opacity="0.9"/>
<circle cx="169.9" cy="163.7" r="3.4" fill="#5cc040" opacity="0.9"/>
<circle cx="168.4" cy="162.8" r="2.1" fill="#2a3ab8" opacity="0.9"/>
<circle cx="176.7" cy="164.3" r="3.4" fill="#5cc040" opacity="0.9"/>
<circle cx="177.4" cy="165.9" r="2.1" fill="#2a3ab8" opacity="0.9"/>
<circle cx="167.9" cy="169.8" r="3.4" fill="#5cc040" opacity="0.9"/>
<circle cx="166.2" cy="169.7" r="2.1" fill="#2a3ab8" opacity="0.9"/>
<circle cx="174.2" cy="171.8" r="3.4" fill="#5cc040" opacity="0.9"/>
<circle cx="173.0" cy="170.5" r="2.1" fill="#2a3ab8" opacity="0.9"/>
<circle cx="170.5" cy="176.0" r="2.5" fill="#5cc040" opacity="0.9"/>
<circle cx="170.8" cy="174.7" r="1.6" fill="#2a3ab8" opacity="0.9"/>
<circle cx="204.7" cy="145.8" r="3.7" fill="#5cc040" opacity="0.9"/>
<circle cx="206.3" cy="146.9" r="2.3" fill="#2a3ab8" opacity="0.9"/>
<circle cx="213.4" cy="148.5" r="3.7" fill="#5cc040" opacity="0.9"/>
<circle cx="212.7" cy="150.4" r="2.3" fill="#2a3ab8" opacity="0.9"/>
<circle cx="168.9" cy="189.0" r="3.4" fill="#5cc040" opacity="0.9"/>
<circle cx="170.4" cy="190.0" r="2.1" fill="#2a3ab8" opacity="0.9"/>
<circle cx="167.0" cy="208.6" r="3.4" fill="#5cc040" opacity="0.9"/>
<circle cx="167.7" cy="206.9" r="2.1" fill="#2a3ab8" opacity="0.9"/>
<circle cx="189.4" cy="210.0" r="4.2" fill="#5cc040" opacity="0.9"/>
<circle cx="188.6" cy="207.9" r="2.6" fill="#2a3ab8" opacity="0.9"/>
<circle cx="133.1" cy="201.8" r="2.5" fill="#5cc040" opacity="0.9"/>
<circle cx="134.3" cy="202.2" r="1.6" fill="#2a3ab8" opacity="0.9"/>
</g></g>
<rect x="132.4" y="130.4" width="87.2" height="88.2" fill="none" stroke="#050a06" stroke-width="0.8" opacity="0.5"/>
<rect x="224" y="130" width="88" height="89" fill="#05080a"/>
<g clip-path="url(#c12)"><g filter="url(#bc)">
<path d="M284,152 Q296,156 297,168 Q297,180 290,183 Q282,186 277,182 L282,176 Q288,170 287,162 Z" fill="#2a8a38" opacity="0.55" filter="url(#b1)"/>
<ellipse cx="277.8" cy="163.8" rx="10.5" ry="11.5" fill="#2a36b0" filter="url(#b1)"/>
<ellipse cx="276" cy="162" rx="7" ry="8" fill="#3442c0" opacity="0.7" filter="url(#b1)"/>
<ellipse cx="253.6" cy="185" rx="13" ry="12.5" fill="#2c38b8" filter="url(#b1)"/>
<ellipse cx="252" cy="184" rx="9" ry="8" fill="#3848c8" opacity="0.6" filter="url(#b1)"/>
<path d="M280,178 Q289,181 295,177 Q293,185 283,184 Z" fill="#6ad850" opacity="0.9"/>
<circle cx="290.6" cy="166.3" r="1.0" fill="#58d050" opacity="0.85"/>
<circle cx="285.5" cy="172.3" r="0.7" fill="#58d050" opacity="0.85"/>
<circle cx="280.2" cy="151.8" r="0.9" fill="#58d050" opacity="0.85"/>
<circle cx="289.7" cy="157.2" r="1.1" fill="#58d050" opacity="0.85"/>
<circle cx="285.9" cy="174.3" r="1.1" fill="#58d050" opacity="0.85"/>
<circle cx="289.5" cy="169.8" r="1.0" fill="#58d050" opacity="0.85"/>
<circle cx="285.1" cy="153.8" r="0.8" fill="#58d050" opacity="0.85"/>
<circle cx="286.8" cy="152.9" r="1.0" fill="#58d050" opacity="0.85"/>
<circle cx="282.6" cy="150.7" r="0.9" fill="#58d050" opacity="0.85"/>
<circle cx="283.1" cy="151.4" r="1.0" fill="#58d050" opacity="0.85"/>
<circle cx="289.3" cy="160.4" r="0.8" fill="#58d050" opacity="0.85"/>
<circle cx="279.8" cy="174.9" r="1.2" fill="#58d050" opacity="0.85"/>
<circle cx="282.9" cy="150.3" r="1.1" fill="#58d050" opacity="0.85"/>
<circle cx="288.2" cy="167.1" r="0.8" fill="#58d050" opacity="0.85"/>
<circle cx="273.8" cy="178.2" r="0.8" fill="#58d050" opacity="0.85"/>
<circle cx="284.0" cy="153.1" r="1.1" fill="#58d050" opacity="0.85"/>
<circle cx="284.5" cy="154.0" r="0.8" fill="#58d050" opacity="0.85"/>
<circle cx="286.6" cy="171.1" r="1.2" fill="#58d050" opacity="0.85"/>
<circle cx="284.4" cy="172.8" r="1.0" fill="#58d050" opacity="0.85"/>
<circle cx="286.9" cy="153.4" r="1.0" fill="#58d050" opacity="0.85"/>
<circle cx="289.8" cy="163.0" r="1.1" fill="#58d050" opacity="0.85"/>
<circle cx="288.1" cy="170.9" r="0.8" fill="#58d050" opacity="0.85"/>
<circle cx="288.3" cy="162.5" r="0.8" fill="#58d050" opacity="0.85"/>
<circle cx="285.5" cy="176.5" r="0.8" fill="#58d050" opacity="0.85"/>
<circle cx="274.6" cy="177.2" r="1.0" fill="#58d050" opacity="0.85"/>
<circle cx="289.3" cy="161.2" r="1.0" fill="#58d050" opacity="0.85"/>
<circle cx="286.1" cy="174.5" r="0.8" fill="#58d050" opacity="0.85"/>
<circle cx="283.7" cy="153.8" r="1.1" fill="#58d050" opacity="0.85"/>
<circle cx="289.9" cy="161.4" r="0.9" fill="#58d050" opacity="0.85"/>
<circle cx="281.4" cy="176.4" r="0.8" fill="#58d050" opacity="0.85"/>
<circle cx="281.3" cy="150.2" r="0.9" fill="#58d050" opacity="0.85"/>
<circle cx="290.2" cy="164.3" r="1.2" fill="#58d050" opacity="0.85"/>
<circle cx="287.3" cy="156.1" r="1.0" fill="#58d050" opacity="0.85"/>
<circle cx="291.1" cy="162.3" r="1.0" fill="#58d050" opacity="0.85"/>
<circle cx="283.9" cy="152.5" r="1.2" fill="#58d050" opacity="0.85"/>
<circle cx="286.8" cy="154.0" r="1.2" fill="#58d050" opacity="0.85"/>
<circle cx="281.1" cy="152.4" r="1.1" fill="#58d050" opacity="0.85"/>
<circle cx="290.2" cy="160.5" r="0.9" fill="#58d050" opacity="0.85"/>
<circle cx="281.9" cy="151.9" r="1.0" fill="#58d050" opacity="0.85"/>
<circle cx="286.5" cy="156.1" r="1.2" fill="#58d050" opacity="0.85"/>
<circle cx="268.3" cy="192.5" r="1.1" fill="#58d050" opacity="0.85"/>
<circle cx="268.3" cy="192.5" r="1.0" fill="#58d050" opacity="0.85"/>
<circle cx="265.5" cy="192.2" r="0.9" fill="#58d050" opacity="0.85"/>
<circle cx="267.3" cy="184.1" r="0.9" fill="#58d050" opacity="0.85"/>
<circle cx="270.7" cy="192.0" r="1.1" fill="#58d050" opacity="0.85"/>
<circle cx="264.1" cy="185.0" r="1.0" fill="#58d050" opacity="0.85"/>
<circle cx="270.9" cy="185.8" r="0.7" fill="#58d050" opacity="0.85"/>
<circle cx="266.2" cy="182.1" r="1.1" fill="#58d050" opacity="0.85"/>
<circle cx="264.4" cy="188.8" r="1.2" fill="#58d050" opacity="0.85"/>
<circle cx="272.9" cy="193.0" r="1.1" fill="#58d050" opacity="0.85"/>
<circle cx="241.0" cy="184.0" r="1.1" fill="#58d050" opacity="0.85"/>
<circle cx="256.0" cy="172.0" r="1.2" fill="#58d050" opacity="0.85"/>
<circle cx="242.0" cy="189.0" r="1.0" fill="#58d050" opacity="0.85"/>
<circle cx="273.0" cy="159.0" r="1.1" fill="#58d050" opacity="0.85"/>
</g></g>
<rect x="224.4" y="130.4" width="87.2" height="88.2" fill="none" stroke="#050a06" stroke-width="0.8" opacity="0.5"/>
<rect x="328" y="130" width="88.5" height="89" fill="#040807"/>
<g clip-path="url(#c13)"><g filter="url(#bc)">
<circle cx="355.7" cy="143.1" r="2.2" fill="#2a9a60" opacity="0.95"/>
<circle cx="356.9" cy="142.5" r="1.7" fill="#2a48b8" opacity="0.85"/>
<circle cx="386.5" cy="136.4" r="2.3" fill="#30a050" opacity="0.95"/>
<circle cx="386.1" cy="135.1" r="1.9" fill="#2a48b8" opacity="0.85"/>
<circle cx="375.2" cy="162.9" r="2.1" fill="#30a050" opacity="0.95"/>
<circle cx="376.1" cy="161.9" r="1.7" fill="#2a48b8" opacity="0.85"/>
<circle cx="331.4" cy="175.5" r="2.5" fill="#3cb848" opacity="0.95"/>
<circle cx="332.8" cy="175.0" r="2.0" fill="#2a48b8" opacity="0.85"/>
<circle cx="329.5" cy="168.4" r="2.3" fill="#30a050" opacity="0.95"/>
<circle cx="331.0" cy="168.5" r="1.9" fill="#2a48b8" opacity="0.85"/>
<circle cx="334.2" cy="137.6" r="2.4" fill="#46c040" opacity="0.95"/>
<circle cx="332.8" cy="137.0" r="2.0" fill="#2a48b8" opacity="0.85"/>
<circle cx="366.5" cy="204.9" r="2.8" fill="#30a050" opacity="0.95"/>
<circle cx="365.1" cy="203.8" r="2.2" fill="#2a48b8" opacity="0.85"/>
<circle cx="339.0" cy="148.8" r="2.3" fill="#46c040" opacity="0.95"/>
<circle cx="337.8" cy="149.6" r="1.8" fill="#2a48b8" opacity="0.85"/>
<circle cx="384.7" cy="215.9" r="2.3" fill="#2a9a60" opacity="0.95"/>
<circle cx="383.7" cy="214.9" r="1.8" fill="#2a48b8" opacity="0.85"/>
<circle cx="415.4" cy="132.3" r="2.7" fill="#30a050" opacity="0.95"/>
<circle cx="416.1" cy="133.8" r="2.1" fill="#2a48b8" opacity="0.85"/>
<circle cx="404.2" cy="155.1" r="2.4" fill="#2a9a60" opacity="0.95"/>
<circle cx="405.7" cy="155.5" r="1.9" fill="#2a48b8" opacity="0.85"/>
<circle cx="341.0" cy="140.3" r="2.6" fill="#3cb848" opacity="0.95"/>
<circle cx="339.6" cy="139.4" r="2.1" fill="#2a48b8" opacity="0.85"/>
<circle cx="355.5" cy="204.2" r="2.6" fill="#3cb848" opacity="0.95"/>
<circle cx="354.8" cy="202.7" r="2.1" fill="#2a48b8" opacity="0.85"/>
<circle cx="344.3" cy="182.0" r="2.3" fill="#3cb848" opacity="0.95"/>
<circle cx="342.9" cy="181.9" r="1.8" fill="#2a48b8" opacity="0.85"/>
<circle cx="386.0" cy="163.4" r="2.6" fill="#46c040" opacity="0.95"/>
<circle cx="384.6" cy="162.6" r="2.1" fill="#2a48b8" opacity="0.85"/>
<circle cx="377.4" cy="134.1" r="2.1" fill="#2a9a60" opacity="0.95"/>
<circle cx="376.5" cy="135.1" r="1.7" fill="#2a48b8" opacity="0.85"/>
<circle cx="333.2" cy="147.7" r="2.1" fill="#2a9a60" opacity="0.95"/>
<circle cx="331.9" cy="147.8" r="1.7" fill="#2a48b8" opacity="0.85"/>
<circle cx="388.8" cy="169.0" r="2.7" fill="#46c040" opacity="0.95"/>
<circle cx="389.0" cy="167.3" r="2.2" fill="#2a48b8" opacity="0.85"/>
<circle cx="355.4" cy="181.5" r="2.1" fill="#3cb848" opacity="0.95"/>
<circle cx="355.7" cy="182.8" r="1.7" fill="#2a48b8" opacity="0.85"/>
<circle cx="368.2" cy="157.4" r="2.8" fill="#46c040" opacity="0.95"/>
<circle cx="368.3" cy="155.6" r="2.2" fill="#2a48b8" opacity="0.85"/>
<circle cx="399.0" cy="193.4" r="2.2" fill="#30a050" opacity="0.95"/>
<circle cx="399.5" cy="192.1" r="1.8" fill="#2a48b8" opacity="0.85"/>
<circle cx="349.5" cy="182.2" r="2.5" fill="#2a9a60" opacity="0.95"/>
<circle cx="349.1" cy="180.7" r="2.0" fill="#2a48b8" opacity="0.85"/>
<circle cx="375.2" cy="209.5" r="2.4" fill="#30a050" opacity="0.95"/>
<circle cx="374.5" cy="208.1" r="1.9" fill="#2a48b8" opacity="0.85"/>
<circle cx="394.4" cy="155.2" r="2.6" fill="#3cb848" opacity="0.95"/>
<circle cx="392.8" cy="155.2" r="2.1" fill="#2a48b8" opacity="0.85"/>
<circle cx="416.1" cy="138.9" r="2.1" fill="#46c040" opacity="0.95"/>
<circle cx="416.2" cy="140.2" r="1.7" fill="#2a48b8" opacity="0.85"/>
<circle cx="365.1" cy="198.8" r="2.4" fill="#2a9a60" opacity="0.95"/>
<circle cx="365.0" cy="197.3" r="2.0" fill="#2a48b8" opacity="0.85"/>
<circle cx="341.2" cy="172.7" r="2.1" fill="#2a9a60" opacity="0.95"/>
<circle cx="340.6" cy="174.0" r="1.7" fill="#2a48b8" opacity="0.85"/>
<circle cx="329.6" cy="189.5" r="2.5" fill="#2a9a60" opacity="0.95"/>
<circle cx="331.1" cy="190.0" r="2.0" fill="#2a48b8" opacity="0.85"/>
<circle cx="396.2" cy="182.2" r="2.8" fill="#46c040" opacity="0.95"/>
<circle cx="396.8" cy="180.5" r="2.2" fill="#2a48b8" opacity="0.85"/>
<circle cx="389.7" cy="184.0" r="2.8" fill="#46c040" opacity="0.95"/>
<circle cx="390.6" cy="182.5" r="2.2" fill="#2a48b8" opacity="0.85"/>
<circle cx="379.2" cy="171.3" r="2.4" fill="#3cb848" opacity="0.95"/>
<circle cx="380.1" cy="170.1" r="1.9" fill="#2a48b8" opacity="0.85"/>
<circle cx="404.5" cy="215.1" r="2.7" fill="#30a050" opacity="0.95"/>
<circle cx="402.8" cy="214.9" r="2.1" fill="#2a48b8" opacity="0.85"/>
<circle cx="371.0" cy="189.8" r="2.4" fill="#2a9a60" opacity="0.95"/>
<circle cx="369.6" cy="189.2" r="1.9" fill="#2a48b8" opacity="0.85"/>
<circle cx="361.6" cy="188.9" r="2.7" fill="#30a050" opacity="0.95"/>
<circle cx="362.4" cy="190.4" r="2.2" fill="#2a48b8" opacity="0.85"/>
<circle cx="332.0" cy="198.0" r="2.5" fill="#3cb848" opacity="0.95"/>
<circle cx="332.6" cy="199.5" r="2.0" fill="#2a48b8" opacity="0.85"/>
<circle cx="363.1" cy="209.1" r="2.4" fill="#2a9a60" opacity="0.95"/>
<circle cx="362.3" cy="207.8" r="1.9" fill="#2a48b8" opacity="0.85"/>
<circle cx="401.0" cy="208.2" r="2.1" fill="#30a050" opacity="0.95"/>
<circle cx="401.9" cy="207.3" r="1.7" fill="#2a48b8" opacity="0.85"/>
<circle cx="351.3" cy="166.5" r="2.8" fill="#46c040" opacity="0.95"/>
<circle cx="353.0" cy="167.0" r="2.2" fill="#2a48b8" opacity="0.85"/>
<circle cx="348.8" cy="172.6" r="2.1" fill="#46c040" opacity="0.95"/>
<circle cx="347.9" cy="173.5" r="1.7" fill="#2a48b8" opacity="0.85"/>
<circle cx="381.5" cy="152.9" r="2.3" fill="#2a9a60" opacity="0.95"/>
<circle cx="380.1" cy="152.9" r="1.9" fill="#2a48b8" opacity="0.85"/>
<circle cx="360.5" cy="181.4" r="2.1" fill="#46c040" opacity="0.95"/>
<circle cx="360.7" cy="180.0" r="1.7" fill="#2a48b8" opacity="0.85"/>
<circle cx="413.9" cy="191.0" r="2.2" fill="#3cb848" opacity="0.95"/>
<circle cx="413.6" cy="192.4" r="1.8" fill="#2a48b8" opacity="0.85"/>
<circle cx="374.7" cy="185.7" r="2.3" fill="#2a9a60" opacity="0.95"/>
<circle cx="373.5" cy="184.9" r="1.8" fill="#2a48b8" opacity="0.85"/>
<circle cx="408.1" cy="200.6" r="2.5" fill="#30a050" opacity="0.95"/>
<circle cx="409.3" cy="199.6" r="2.0" fill="#2a48b8" opacity="0.85"/>
<circle cx="362.8" cy="166.2" r="2.3" fill="#46c040" opacity="0.95"/>
<circle cx="362.6" cy="164.8" r="1.8" fill="#2a48b8" opacity="0.85"/>
<circle cx="336.2" cy="185.8" r="2.5" fill="#2a9a60" opacity="0.95"/>
<circle cx="336.5" cy="187.3" r="2.0" fill="#2a48b8" opacity="0.85"/>
<circle cx="345.8" cy="142.8" r="2.6" fill="#2a9a60" opacity="0.95"/>
<circle cx="346.1" cy="144.4" r="2.1" fill="#2a48b8" opacity="0.85"/>
<circle cx="357.8" cy="132.9" r="2.2" fill="#46c040" opacity="0.95"/>
<circle cx="358.0" cy="134.3" r="1.7" fill="#2a48b8" opacity="0.85"/>
<circle cx="327.4" cy="142.1" r="2.1" fill="#2a9a60" opacity="0.95"/>
<circle cx="326.8" cy="143.2" r="1.7" fill="#2a48b8" opacity="0.85"/>
<circle cx="336.6" cy="161.2" r="2.6" fill="#46c040" opacity="0.95"/>
<circle cx="336.0" cy="162.6" r="2.1" fill="#2a48b8" opacity="0.85"/>
<circle cx="329.3" cy="207.5" r="2.7" fill="#3cb848" opacity="0.95"/>
<circle cx="329.3" cy="209.2" r="2.2" fill="#2a48b8" opacity="0.85"/>
<circle cx="382.0" cy="142.0" r="2.7" fill="#46c040" opacity="0.95"/>
<circle cx="383.4" cy="142.8" r="2.1" fill="#2a48b8" opacity="0.85"/>
<circle cx="350.8" cy="160.8" r="2.1" fill="#30a050" opacity="0.95"/>
<circle cx="349.5" cy="160.5" r="1.7" fill="#2a48b8" opacity="0.85"/>
<circle cx="368.6" cy="173.8" r="2.8" fill="#2a9a60" opacity="0.95"/>
<circle cx="369.9" cy="172.6" r="2.2" fill="#2a48b8" opacity="0.85"/>
<circle cx="357.5" cy="152.4" r="2.5" fill="#46c040" opacity="0.95"/>
<circle cx="358.6" cy="153.5" r="2.0" fill="#2a48b8" opacity="0.85"/>
<circle cx="403.4" cy="143.7" r="2.4" fill="#3cb848" opacity="0.95"/>
<circle cx="401.9" cy="143.7" r="1.9" fill="#2a48b8" opacity="0.85"/>
<circle cx="328.1" cy="215.5" r="2.6" fill="#3cb848" opacity="0.95"/>
<circle cx="329.7" cy="215.6" r="2.1" fill="#2a48b8" opacity="0.85"/>
<circle cx="376.0" cy="142.7" r="2.5" fill="#2a9a60" opacity="0.95"/>
<circle cx="374.5" cy="142.1" r="2.0" fill="#2a48b8" opacity="0.85"/>
<circle cx="375.8" cy="218.4" r="2.3" fill="#30a050" opacity="0.95"/>
<circle cx="374.6" cy="217.8" r="1.8" fill="#2a48b8" opacity="0.85"/>
<circle cx="405.6" cy="191.5" r="2.2" fill="#46c040" opacity="0.95"/>
<circle cx="405.5" cy="192.9" r="1.8" fill="#2a48b8" opacity="0.85"/>
<circle cx="343.2" cy="199.1" r="2.6" fill="#2a9a60" opacity="0.95"/>
<circle cx="341.6" cy="199.3" r="2.1" fill="#2a48b8" opacity="0.85"/>
<circle cx="376.4" cy="200.4" r="2.7" fill="#30a050" opacity="0.95"/>
<circle cx="374.9" cy="199.6" r="2.1" fill="#2a48b8" opacity="0.85"/>
<circle cx="328.8" cy="153.7" r="2.6" fill="#46c040" opacity="0.95"/>
<circle cx="330.0" cy="154.8" r="2.1" fill="#2a48b8" opacity="0.85"/>
<circle cx="351.1" cy="192.7" r="2.1" fill="#30a050" opacity="0.95"/>
<circle cx="350.3" cy="191.6" r="1.7" fill="#2a48b8" opacity="0.85"/>
<circle cx="413.7" cy="168.8" r="2.5" fill="#46c040" opacity="0.95"/>
<circle cx="414.3" cy="170.3" r="2.0" fill="#2a48b8" opacity="0.85"/>
<circle cx="413.0" cy="219.2" r="2.1" fill="#30a050" opacity="0.95"/>
<circle cx="411.8" cy="218.7" r="1.7" fill="#2a48b8" opacity="0.85"/>
<circle cx="414.8" cy="162.8" r="2.8" fill="#46c040" opacity="0.95"/>
<circle cx="413.4" cy="161.8" r="2.2" fill="#2a48b8" opacity="0.85"/>
<circle cx="346.8" cy="150.6" r="2.6" fill="#30a050" opacity="0.95"/>
<circle cx="347.2" cy="149.1" r="2.0" fill="#2a48b8" opacity="0.85"/>
<circle cx="402.6" cy="172.8" r="2.4" fill="#3cb848" opacity="0.95"/>
<circle cx="404.0" cy="172.5" r="1.9" fill="#2a48b8" opacity="0.85"/>
<circle cx="385.4" cy="201.4" r="2.8" fill="#30a050" opacity="0.95"/>
<circle cx="387.0" cy="202.0" r="2.2" fill="#2a48b8" opacity="0.85"/>
<circle cx="396.3" cy="172.1" r="2.8" fill="#3cb848" opacity="0.95"/>
<circle cx="394.7" cy="172.8" r="2.2" fill="#2a48b8" opacity="0.85"/>
<circle cx="364.3" cy="215.6" r="2.3" fill="#2a9a60" opacity="0.95"/>
<circle cx="363.1" cy="214.9" r="1.8" fill="#2a48b8" opacity="0.85"/>
<circle cx="392.1" cy="145.2" r="2.8" fill="#46c040" opacity="0.95"/>
<circle cx="393.4" cy="144.0" r="2.2" fill="#2a48b8" opacity="0.85"/>
<circle cx="341.0" cy="204.7" r="2.1" fill="#30a050" opacity="0.95"/>
<circle cx="339.9" cy="203.9" r="1.7" fill="#2a48b8" opacity="0.85"/>
<circle cx="339.6" cy="131.1" r="2.8" fill="#30a050" opacity="0.95"/>
<circle cx="338.5" cy="129.8" r="2.2" fill="#2a48b8" opacity="0.85"/>
<circle cx="338.6" cy="210.8" r="2.7" fill="#46c040" opacity="0.95"/>
<circle cx="339.1" cy="212.4" r="2.2" fill="#2a48b8" opacity="0.85"/>
<circle cx="359.9" cy="170.0" r="2.4" fill="#2a9a60" opacity="0.95"/>
<circle cx="358.8" cy="171.1" r="1.9" fill="#2a48b8" opacity="0.85"/>
<circle cx="380.9" cy="211.3" r="2.1" fill="#2a9a60" opacity="0.95"/>
<circle cx="379.6" cy="211.3" r="1.7" fill="#2a48b8" opacity="0.85"/>
<circle cx="371.8" cy="178.0" r="2.6" fill="#46c040" opacity="0.95"/>
<circle cx="373.1" cy="177.1" r="2.0" fill="#2a48b8" opacity="0.85"/>
<circle cx="366.4" cy="146.3" r="2.4" fill="#3cb848" opacity="0.95"/>
<circle cx="367.4" cy="145.3" r="1.9" fill="#2a48b8" opacity="0.85"/>
<circle cx="328.4" cy="201.7" r="2.7" fill="#30a050" opacity="0.95"/>
<circle cx="326.7" cy="201.7" r="2.1" fill="#2a48b8" opacity="0.85"/>
<circle cx="357.4" cy="176.9" r="2.7" fill="#46c040" opacity="0.95"/>
<circle cx="356.2" cy="175.7" r="2.1" fill="#2a48b8" opacity="0.85"/>
<circle cx="337.5" cy="179.4" r="2.6" fill="#30a050" opacity="0.95"/>
<circle cx="336.2" cy="180.3" r="2.1" fill="#2a48b8" opacity="0.85"/>
<circle cx="350.4" cy="154.5" r="2.3" fill="#2a9a60" opacity="0.95"/>
<circle cx="349.1" cy="154.0" r="1.8" fill="#2a48b8" opacity="0.85"/>
<circle cx="381.8" cy="174.4" r="2.8" fill="#30a050" opacity="0.95"/>
<circle cx="383.3" cy="175.4" r="2.2" fill="#2a48b8" opacity="0.85"/>
<circle cx="370.5" cy="213.6" r="2.7" fill="#3cb848" opacity="0.95"/>
<circle cx="370.5" cy="215.3" r="2.2" fill="#2a48b8" opacity="0.85"/>
<circle cx="391.5" cy="209.0" r="2.3" fill="#30a050" opacity="0.95"/>
<circle cx="390.1" cy="208.6" r="1.8" fill="#2a48b8" opacity="0.85"/>
<circle cx="413.3" cy="153.4" r="2.5" fill="#30a050" opacity="0.95"/>
<circle cx="412.4" cy="152.1" r="2.0" fill="#2a48b8" opacity="0.85"/>
<circle cx="337.7" cy="170.1" r="2.4" fill="#30a050" opacity="0.95"/>
<circle cx="338.3" cy="168.7" r="1.9" fill="#2a48b8" opacity="0.85"/>
<circle cx="340.1" cy="194.6" r="2.6" fill="#3cb848" opacity="0.95"/>
<circle cx="341.6" cy="193.9" r="2.1" fill="#2a48b8" opacity="0.85"/>
<circle cx="346.3" cy="214.9" r="2.7" fill="#46c040" opacity="0.95"/>
<circle cx="347.4" cy="216.1" r="2.1" fill="#2a48b8" opacity="0.85"/>
<circle cx="418.0" cy="205.1" r="2.6" fill="#2a9a60" opacity="0.95"/>
<circle cx="416.5" cy="204.6" r="2.1" fill="#2a48b8" opacity="0.85"/>
</g></g>
<rect x="328.4" y="130.4" width="87.7" height="88.2" fill="none" stroke="#050a06" stroke-width="0.8" opacity="0.5"/>
<rect x="420" y="130" width="88" height="89" fill="#04070a"/>
<g clip-path="url(#c14)"><g filter="url(#bc)">
<ellipse cx="459.3" cy="177.5" rx="11.4" ry="8.8" fill="#2a9a40" opacity="0.8" filter="url(#b1)"/>
<ellipse cx="465.2" cy="167.6" rx="13" ry="11.2" fill="#3452c4" filter="url(#b1)"/>
<ellipse cx="462" cy="175" rx="9" ry="5.5" fill="#38a8a8" opacity="0.75" filter="url(#b1)"/>
<circle cx="451.5" cy="180.6" r="1.0" fill="#5ad858" opacity="0.85"/>
<circle cx="470.6" cy="172.9" r="0.8" fill="#5ad858" opacity="0.85"/>
<circle cx="465.9" cy="179.9" r="0.9" fill="#5ad858" opacity="0.85"/>
<circle cx="464.7" cy="175.1" r="1.1" fill="#5ad858" opacity="0.85"/>
<circle cx="451.7" cy="172.0" r="1.2" fill="#5ad858" opacity="0.85"/>
<circle cx="457.2" cy="172.7" r="1.1" fill="#5ad858" opacity="0.85"/>
<circle cx="463.5" cy="170.7" r="1.0" fill="#5ad858" opacity="0.85"/>
<circle cx="464.3" cy="171.0" r="1.0" fill="#5ad858" opacity="0.85"/>
<circle cx="451.8" cy="174.1" r="0.7" fill="#5ad858" opacity="0.85"/>
<circle cx="459.1" cy="178.9" r="1.1" fill="#5ad858" opacity="0.85"/>
<circle cx="464.8" cy="170.0" r="1.0" fill="#5ad858" opacity="0.85"/>
<circle cx="463.6" cy="171.3" r="0.7" fill="#5ad858" opacity="0.85"/>
<circle cx="469.1" cy="177.2" r="0.8" fill="#5ad858" opacity="0.85"/>
<circle cx="459.4" cy="171.9" r="1.1" fill="#5ad858" opacity="0.85"/>
<circle cx="460.5" cy="169.8" r="1.1" fill="#5ad858" opacity="0.85"/>
<circle cx="451.1" cy="173.1" r="0.7" fill="#5ad858" opacity="0.85"/>
<circle cx="466.0" cy="170.0" r="1.0" fill="#5ad858" opacity="0.85"/>
<circle cx="451.1" cy="176.6" r="1.0" fill="#5ad858" opacity="0.85"/>
<circle cx="461.3" cy="176.2" r="0.9" fill="#5ad858" opacity="0.85"/>
<circle cx="459.1" cy="178.7" r="0.7" fill="#5ad858" opacity="0.85"/>
<circle cx="459.9" cy="172.3" r="1.1" fill="#5ad858" opacity="0.85"/>
<circle cx="452.3" cy="180.7" r="1.0" fill="#5ad858" opacity="0.85"/>
<circle cx="470.7" cy="175.6" r="0.9" fill="#5ad858" opacity="0.85"/>
<circle cx="462.1" cy="184.9" r="0.8" fill="#5ad858" opacity="0.85"/>
</g></g>
<rect x="420.4" y="130.4" width="87.2" height="88.2" fill="none" stroke="#050a06" stroke-width="0.8" opacity="0.5"/>
<text x="43.1" y="19" font-size="10.1" textLength="59.6" lengthAdjust="spacingAndGlyphs" fill="#262626" stroke="#262626" stroke-width="0.1">No FA control</text>
<text x="138.6" y="19" font-size="10.1" textLength="78.3" lengthAdjust="spacingAndGlyphs" fill="#262626" stroke="#262626" stroke-width="0.1">BODIPY-C12 (20X)</text>
<text x="229.6" y="19" font-size="10.1" textLength="78.9" lengthAdjust="spacingAndGlyphs" fill="#262626" stroke="#262626" stroke-width="0.1">BODIPY-C12 (40X)</text>
<text x="333.8" y="19" font-size="10.1" textLength="78.1" lengthAdjust="spacingAndGlyphs" fill="#262626" stroke="#262626" stroke-width="0.1">BODIPY-C16 (20X)</text>
<text x="425.8" y="19" font-size="10.1" textLength="78.2" lengthAdjust="spacingAndGlyphs" fill="#262626" stroke="#262626" stroke-width="0.1">BODIPY-C16 (40X)</text>
<text x="43.1" y="125.4" font-size="10.1" textLength="59.6" lengthAdjust="spacingAndGlyphs" fill="#262626" stroke="#262626" stroke-width="0.1">No FA control</text>
<text x="136.7" y="125.4" font-size="10.1" textLength="78.3" lengthAdjust="spacingAndGlyphs" fill="#262626" stroke="#262626" stroke-width="0.1">BODIPY-C12 (20X)</text>
<text x="228.7" y="125.4" font-size="10.1" textLength="77.8" lengthAdjust="spacingAndGlyphs" fill="#262626" stroke="#262626" stroke-width="0.1">BODIPY-C12 (40X)</text>
<text x="336.9" y="125.4" font-size="10.1" textLength="78.3" lengthAdjust="spacingAndGlyphs" fill="#262626" stroke="#262626" stroke-width="0.1">BODIPY-C16 (20X)</text>
<text x="423.8" y="125.4" font-size="10.1" textLength="77.9" lengthAdjust="spacingAndGlyphs" fill="#262626" stroke="#262626" stroke-width="0.1">BODIPY-C16 (40X)</text>
<text transform="translate(24.1,80.2) rotate(-90)" font-size="10.2" fill="#262626" stroke="#262626" stroke-width="0.1" textLength="30.8" lengthAdjust="spacingAndGlyphs">5TGM1</text>
<text transform="translate(24.2,190.5) rotate(-90)" font-size="10.2" fill="#262626" stroke="#262626" stroke-width="0.1" textLength="26.8" lengthAdjust="spacingAndGlyphs">OPM2</text>
<g stroke="#f2b500" stroke-width="1.3" fill="none">
<rect x="164.6" y="45" width="27" height="30.1"/>
<line x1="191.6" y1="45" x2="224" y2="23"/>
<line x1="191.6" y1="75.1" x2="224" y2="112"/>
<rect x="328.6" y="23.6" width="21.7" height="23.4"/>
<line x1="350.3" y1="35.8" x2="420" y2="35.8"/>
<line x1="350.3" y1="47" x2="420" y2="112"/>
</g>
<path d="M31.8,347.5 L31.82,347.37 L32.32,347.22 L32.82,346.94 L33.32,346.41 L33.82,345.47 L34.32,343.92 L34.82,341.59 L35.32,337.58 L35.82,332.35 L36.32,325.99 L36.82,317.04 L37.32,307.05 L37.82,295.49 L38.32,283.98 L38.82,277.11 L39.32,270.22 L39.82,262.20 L40.32,263.95 L40.82,265.70 L41.32,275.68 L41.82,282.55 L42.32,291.85 L42.82,303.90 L43.32,312.34 L43.82,321.55 L44.32,330.05 L44.82,335.67 L45.32,339.57 L45.82,342.45 L46.32,344.57 L46.82,345.83 L47.32,346.59 L47.82,347.02 L48.32,347.26 L48.7,347.5 Z" fill="#cf2e52" fill-opacity="0.58" stroke="#cf2e52" stroke-width="0.9" stroke-linejoin="round"/>
<path d="M57.7,347.5 L57.70,347.40 L58.20,347.38 L58.70,347.36 L59.20,347.34 L59.70,347.31 L60.20,347.28 L60.70,347.24 L61.20,347.20 L61.70,347.15 L62.20,347.09 L62.70,347.03 L63.20,346.96 L63.70,346.88 L64.20,346.78 L64.70,346.68 L65.20,346.56 L65.70,346.43 L66.20,346.28 L66.70,346.12 L67.20,345.93 L67.70,345.73 L68.20,345.50 L68.70,345.24 L69.20,344.96 L69.70,344.65 L70.20,344.31 L70.70,343.81 L71.20,343.39 L71.70,343.24 L72.20,342.76 L72.70,341.92 L73.20,341.37 L73.70,340.77 L74.20,340.30 L74.70,339.40 L75.20,338.62 L75.70,337.80 L76.20,337.26 L76.70,336.09 L77.20,335.12 L77.70,333.71 L78.20,332.24 L78.70,331.06 L79.20,330.32 L79.70,329.15 L80.20,328.07 L80.70,327.06 L81.20,325.65 L81.70,323.32 L82.20,322.04 L82.70,320.29 L83.20,317.44 L83.70,316.57 L84.20,314.72 L84.70,313.83 L85.20,312.68 L85.70,310.02 L86.20,308.82 L86.70,305.80 L87.20,302.28 L87.70,301.57 L88.20,301.62 L88.70,297.13 L89.20,295.75 L89.70,294.31 L90.20,291.93 L90.70,290.97 L91.20,289.34 L91.70,289.95 L92.20,285.68 L92.70,284.52 L93.20,287.34 L93.70,283.39 L94.20,282.70 L94.70,283.24 L95.20,282.25 L95.70,281.96 L96.20,279.30 L96.70,281.31 L97.20,279.46 L97.70,282.28 L98.20,280.73 L98.70,282.79 L99.20,287.85 L99.70,290.89 L100.20,293.51 L100.70,298.88 L101.20,304.47 L101.70,310.06 L102.20,314.41 L102.70,318.03 L103.20,323.45 L103.70,326.06 L104.20,330.63 L104.70,333.00 L105.20,336.37 L105.70,338.20 L106.20,340.36 L106.70,342.08 L107.20,343.37 L107.70,344.41 L108.20,345.21 L108.70,345.83 L109.20,346.30 L109.70,346.65 L110.20,346.91 L110.70,347.09 L111.20,347.22 L111.70,347.31 L112.20,347.38 L112.4,347.5 Z" fill="#1f5f9a" fill-opacity="0.5" stroke="#1f5f9a" stroke-width="0.9" stroke-linejoin="round"/>
<path d="M70.3,347.5 L70.34,347.37 L70.84,347.34 L71.34,347.30 L71.84,347.26 L72.34,347.21 L72.84,347.14 L73.34,347.07 L73.84,346.98 L74.34,346.88 L74.84,346.75 L75.34,346.61 L75.84,346.44 L76.34,346.24 L76.84,346.01 L77.34,345.75 L77.84,345.45 L78.34,345.10 L78.84,344.70 L79.34,344.25 L79.84,343.73 L80.34,343.24 L80.84,342.48 L81.34,341.82 L81.84,340.89 L82.34,339.96 L82.84,339.33 L83.34,338.29 L83.84,336.41 L84.34,335.60 L84.84,334.21 L85.34,331.75 L85.84,330.69 L86.34,328.32 L86.84,326.91 L87.34,324.54 L87.84,323.28 L88.34,319.97 L88.84,316.94 L89.34,315.20 L89.84,311.93 L90.34,309.34 L90.84,308.44 L91.34,303.25 L91.84,300.86 L92.34,299.01 L92.84,297.20 L93.34,290.64 L93.84,289.42 L94.34,285.32 L94.84,281.62 L95.34,279.67 L95.84,275.85 L96.34,276.31 L96.84,271.60 L97.34,271.58 L97.84,266.58 L98.34,265.17 L98.84,268.73 L99.34,267.29 L99.84,265.82 L100.34,260.10 L100.84,263.26 L101.34,261.86 L101.84,264.75 L102.34,265.22 L102.84,268.95 L103.34,273.04 L103.84,276.40 L104.34,281.81 L104.84,286.14 L105.34,293.34 L105.84,298.61 L106.34,305.05 L106.84,310.58 L107.34,316.94 L107.84,322.96 L108.34,326.09 L108.84,329.95 L109.34,333.49 L109.84,336.71 L110.34,338.99 L110.84,341.22 L111.34,342.50 L111.84,343.86 L112.34,344.82 L112.84,345.55 L113.34,346.11 L113.84,346.52 L114.34,346.82 L114.84,347.03 L115.34,347.18 L115.84,347.29 L116.34,347.36 L116.4,347.5 Z" fill="#5e2c86" fill-opacity="0.38" stroke="#5e2c86" stroke-width="0.9" stroke-linejoin="round"/>
<path d="M81.1,347.5 L81.08,347.38 L81.58,347.35 L82.08,347.31 L82.58,347.27 L83.08,347.21 L83.58,347.14 L84.08,347.05 L84.58,346.95 L85.08,346.83 L85.58,346.68 L86.08,346.51 L86.58,346.30 L87.08,346.06 L87.58,345.77 L88.08,345.44 L88.58,345.05 L89.08,344.60 L89.58,344.08 L90.08,343.57 L90.58,342.96 L91.08,342.09 L91.58,341.35 L92.08,340.46 L92.58,339.18 L93.08,337.59 L93.58,336.31 L94.08,334.83 L94.58,333.80 L95.08,331.69 L95.58,330.16 L96.08,328.31 L96.58,326.30 L97.08,323.84 L97.58,319.92 L98.08,317.48 L98.58,314.76 L99.08,311.91 L99.58,310.78 L100.08,307.51 L100.58,303.45 L101.08,299.99 L101.58,296.41 L102.08,293.21 L102.58,293.70 L103.08,288.49 L103.58,285.38 L104.08,283.57 L104.58,282.86 L105.08,279.04 L105.58,279.17 L106.08,272.54 L106.58,271.37 L107.08,272.01 L107.58,272.58 L108.08,268.22 L108.58,269.98 L109.08,268.20 L109.58,269.49 L110.08,273.54 L110.58,276.94 L111.08,279.55 L111.58,284.70 L112.08,290.68 L112.58,295.02 L113.08,298.26 L113.58,306.33 L114.08,311.33 L114.58,314.64 L115.08,320.15 L115.58,323.91 L116.08,327.93 L116.58,331.55 L117.08,333.85 L117.58,337.23 L118.08,339.22 L118.58,341.14 L119.08,342.41 L119.58,343.67 L120.08,344.62 L120.58,345.36 L121.08,345.93 L121.58,346.36 L122.08,346.69 L122.58,346.93 L123.08,347.10 L123.58,347.23 L124.08,347.31 L124.58,347.38 L124.6,347.5 Z" fill="#3fb54e" fill-opacity="0.5" stroke="#3fb54e" stroke-width="0.9" stroke-linejoin="round"/>
<path d="M91.5,347.5 L91.46,347.37 L91.96,347.34 L92.46,347.29 L92.96,347.23 L93.46,347.15 L93.96,347.06 L94.46,346.95 L94.96,346.81 L95.46,346.63 L95.96,346.42 L96.46,346.17 L96.96,345.87 L97.46,345.51 L97.96,345.08 L98.46,344.57 L98.96,343.97 L99.46,343.24 L99.96,342.38 L100.46,341.41 L100.96,340.25 L101.46,339.13 L101.96,337.61 L102.46,336.82 L102.96,334.74 L103.46,332.30 L103.96,330.54 L104.46,327.86 L104.96,326.67 L105.46,323.41 L105.96,321.06 L106.46,317.39 L106.96,314.12 L107.46,312.42 L107.96,308.45 L108.46,304.77 L108.96,298.83 L109.46,295.68 L109.96,294.60 L110.46,288.15 L110.96,287.80 L111.46,282.04 L111.96,281.48 L112.46,279.29 L112.96,271.54 L113.46,273.07 L113.96,270.98 L114.46,264.37 L114.96,263.68 L115.46,266.56 L115.96,261.60 L116.46,264.40 L116.96,265.15 L117.46,271.67 L117.96,272.44 L118.46,280.45 L118.96,286.60 L119.46,294.96 L119.96,305.07 L120.46,312.27 L120.96,319.54 L121.46,325.54 L121.96,330.75 L122.46,334.70 L122.96,337.91 L123.46,340.98 L123.96,342.71 L124.46,344.29 L124.96,345.37 L125.46,346.12 L125.96,346.63 L126.46,346.96 L126.96,347.18 L127.46,347.31 L127.8,347.5 Z" fill="#f08c1c" fill-opacity="0.5" stroke="#f08c1c" stroke-width="0.9" stroke-linejoin="round"/>
<path d="M27,248.8 H127 V347.6 H27 Z" fill="none" stroke="#2b2b2b" stroke-width="1.1"/>
<path d="M24.4,347.60H27M24.4,323.40H27M24.4,299.20H27M24.4,275.00H27M24.4,250.80H27M25.5,347.50H27M25.5,342.66H27M25.5,337.82H27M25.5,332.98H27M25.5,328.14H27M25.5,323.30H27M25.5,318.46H27M25.5,313.62H27M25.5,308.78H27M25.5,303.94H27M25.5,299.10H27M25.5,294.26H27M25.5,289.42H27M25.5,284.58H27M25.5,279.74H27M25.5,274.90H27M25.5,270.06H27M25.5,265.22H27M25.5,260.38H27M25.5,255.54H27M25.5,250.70H27" stroke="#2b2b2b" stroke-width="0.8" fill="none"/>
<text x="21" y="347.90000000000003" font-size="7.4" text-anchor="end" fill="#262626" stroke="#262626" stroke-width="0.1">0</text>
<text x="21" y="325.90000000000003" font-size="7.4" text-anchor="end" fill="#262626" stroke="#262626" stroke-width="0.1">50</text>
<text x="21" y="301.70000000000005" font-size="7.4" text-anchor="end" fill="#262626" stroke="#262626" stroke-width="0.1">100</text>
<text x="21" y="277.5" font-size="7.4" text-anchor="end" fill="#262626" stroke="#262626" stroke-width="0.1">150</text>
<text x="21" y="253.3" font-size="7.4" text-anchor="end" fill="#262626" stroke="#262626" stroke-width="0.1">200</text>
<text x="56.7" y="246.4" font-size="10.6" textLength="30.6" lengthAdjust="spacingAndGlyphs" fill="#262626" stroke="#262626" stroke-width="0.1">5TGM1</text>
<text x="42.8" y="360.2" font-size="7.2" text-anchor="middle" fill="#262626" stroke="#262626" stroke-width="0.1">0</text>
<text x="72.5" y="360.2" font-size="7.4" text-anchor="middle" fill="#262626" stroke="#262626" stroke-width="0.1">10<tspan font-size="5.3" dy="-2.9">3</tspan></text>
<text x="96.2" y="360.2" font-size="7.4" text-anchor="middle" fill="#262626" stroke="#262626" stroke-width="0.1">10<tspan font-size="5.3" dy="-2.9">4</tspan></text>
<text x="119.5" y="360.2" font-size="7.4" text-anchor="middle" fill="#262626" stroke="#262626" stroke-width="0.1">10<tspan font-size="5.3" dy="-2.9">5</tspan></text>
<path d="M42.80,347.6V350.40000000000003M72.00,347.6V350.40000000000003M95.60,347.6V350.40000000000003M119.20,347.6V350.40000000000003M33.00,347.6V349.5M35.00,347.6V349.5M37.00,347.6V349.5M39.00,347.6V349.5M41.00,347.6V349.5M44.00,347.6V349.5M46.00,347.6V349.5M48.00,347.6V349.5M50.00,347.6V349.5M55.50,347.6V349.5M59.66,347.6V349.5M62.61,347.6V349.5M64.90,347.6V349.5M66.76,347.6V349.5M68.34,347.6V349.5M69.71,347.6V349.5M70.92,347.6V349.5M79.10,347.6V349.5M83.26,347.6V349.5M86.21,347.6V349.5M88.50,347.6V349.5M90.36,347.6V349.5M91.94,347.6V349.5M93.31,347.6V349.5M94.52,347.6V349.5M102.70,347.6V349.5M106.86,347.6V349.5M109.81,347.6V349.5M112.10,347.6V349.5M113.96,347.6V349.5M115.54,347.6V349.5M116.91,347.6V349.5M118.12,347.6V349.5" stroke="#1e1e1e" stroke-width="0.8" fill="none"/>
<path d="M160.4,346.8 L160.38,346.68 L160.88,346.53 L161.38,346.22 L161.88,345.65 L162.38,344.63 L162.88,342.90 L163.38,340.02 L163.88,335.80 L164.38,330.22 L164.88,322.90 L165.38,314.17 L165.88,302.04 L166.38,291.43 L166.88,279.86 L167.38,272.99 L167.88,265.80 L168.38,266.78 L168.88,266.74 L169.38,273.10 L169.88,283.02 L170.38,292.75 L170.88,303.06 L171.38,314.30 L171.88,322.55 L172.38,329.66 L172.88,335.78 L173.38,339.59 L173.88,342.47 L174.38,344.33 L174.88,345.44 L175.38,346.09 L175.88,346.44 L176.38,346.63 L176.6,346.8 Z" fill="#cf2e52" fill-opacity="0.58" stroke="#cf2e52" stroke-width="0.9" stroke-linejoin="round"/>
<path d="M175.1,346.8 L175.10,346.70 L175.60,346.67 L176.10,346.64 L176.60,346.61 L177.10,346.56 L177.60,346.51 L178.10,346.45 L178.60,346.38 L179.10,346.29 L179.60,346.19 L180.10,346.07 L180.60,345.93 L181.10,345.76 L181.60,345.57 L182.10,345.35 L182.60,345.10 L183.10,344.81 L183.60,344.47 L184.10,344.10 L184.60,343.66 L185.10,343.23 L185.60,342.75 L186.10,341.96 L186.60,341.52 L187.10,340.55 L187.60,339.80 L188.10,339.08 L188.60,337.77 L189.10,337.03 L189.60,335.50 L190.10,334.56 L190.60,333.17 L191.10,331.27 L191.60,329.10 L192.10,328.38 L192.60,326.44 L193.10,323.81 L193.60,321.12 L194.10,319.72 L194.60,317.93 L195.10,314.22 L195.60,314.31 L196.10,309.67 L196.60,308.95 L197.10,307.03 L197.60,304.76 L198.10,301.71 L198.60,297.40 L199.10,297.57 L199.60,293.67 L200.10,291.22 L200.60,290.34 L201.10,287.58 L201.60,288.13 L202.10,286.56 L202.60,284.40 L203.10,280.69 L203.60,280.94 L204.10,280.70 L204.60,278.61 L205.10,278.93 L205.60,279.61 L206.10,277.20 L206.60,278.92 L207.10,283.36 L207.60,284.49 L208.10,288.24 L208.60,290.77 L209.10,295.92 L209.60,302.30 L210.10,304.79 L210.60,312.21 L211.10,315.96 L211.60,319.61 L212.10,324.87 L212.60,327.97 L213.10,331.84 L213.60,334.00 L214.10,336.45 L214.60,338.73 L215.10,340.35 L215.60,342.05 L216.10,343.08 L216.60,344.05 L217.10,344.77 L217.60,345.32 L218.10,345.73 L218.60,346.04 L219.10,346.27 L219.60,346.43 L220.10,346.55 L220.60,346.63 L221.10,346.69 L221.2,346.8 Z" fill="#1f5f9a" fill-opacity="0.5" stroke="#1f5f9a" stroke-width="0.9" stroke-linejoin="round"/>
<path d="M196.1,346.8 L196.14,346.69 L196.64,346.66 L197.14,346.61 L197.64,346.55 L198.14,346.47 L198.64,346.37 L199.14,346.25 L199.64,346.09 L200.14,345.89 L200.64,345.65 L201.14,345.35 L201.64,344.99 L202.14,344.54 L202.64,344.01 L203.14,343.38 L203.64,342.73 L204.14,341.57 L204.64,340.92 L205.14,339.44 L205.64,338.50 L206.14,336.89 L206.64,334.49 L207.14,333.35 L207.64,330.72 L208.14,328.63 L208.64,326.10 L209.14,323.30 L209.64,321.02 L210.14,316.51 L210.64,315.14 L211.14,311.50 L211.64,308.85 L212.14,304.70 L212.64,300.82 L213.14,295.52 L213.64,294.38 L214.14,292.52 L214.64,289.06 L215.14,282.91 L215.64,285.28 L216.14,280.50 L216.64,280.26 L217.14,277.62 L217.64,278.74 L218.14,276.60 L218.64,278.85 L219.14,281.18 L219.64,284.82 L220.14,292.46 L220.64,301.03 L221.14,308.27 L221.64,312.80 L222.14,320.62 L222.64,326.99 L223.14,330.98 L223.64,335.58 L224.14,338.75 L224.64,341.20 L225.14,343.23 L225.64,344.45 L226.14,345.32 L226.64,345.89 L227.14,346.26 L227.64,346.49 L228.14,346.63 L228.5,346.8 Z" fill="#5e2c86" fill-opacity="0.38" stroke="#5e2c86" stroke-width="0.9" stroke-linejoin="round"/>
<path d="M205.5,346.8 L205.46,346.67 L205.96,346.63 L206.46,346.58 L206.96,346.51 L207.46,346.43 L207.96,346.32 L208.46,346.19 L208.96,346.02 L209.46,345.81 L209.96,345.56 L210.46,345.25 L210.96,344.87 L211.46,344.42 L211.96,343.88 L212.46,343.23 L212.96,342.49 L213.46,341.64 L213.96,340.74 L214.46,339.15 L214.96,338.35 L215.46,336.46 L215.96,334.33 L216.46,333.22 L216.96,330.51 L217.46,328.01 L217.96,326.34 L218.46,322.95 L218.96,319.22 L219.46,316.52 L219.96,312.35 L220.46,310.38 L220.96,306.48 L221.46,303.19 L221.96,297.88 L222.46,292.21 L222.96,289.72 L223.46,285.02 L223.96,283.31 L224.46,277.93 L224.96,278.32 L225.46,274.40 L225.96,269.55 L226.46,267.04 L226.96,267.23 L227.46,268.14 L227.96,266.20 L228.46,266.29 L228.96,266.83 L229.46,266.84 L229.96,275.93 L230.46,279.18 L230.96,287.54 L231.46,299.58 L231.96,306.74 L232.46,314.38 L232.96,322.50 L233.46,327.82 L233.96,332.34 L234.46,337.14 L234.96,339.85 L235.46,342.31 L235.96,343.79 L236.46,344.89 L236.96,345.63 L237.46,346.10 L237.96,346.40 L238.46,346.57 L238.9,346.8 Z" fill="#3fb54e" fill-opacity="0.5" stroke="#3fb54e" stroke-width="0.9" stroke-linejoin="round"/>
<path d="M217.4,346.8 L217.40,346.73 L217.90,346.70 L218.40,346.66 L218.90,346.61 L219.40,346.54 L219.90,346.45 L220.40,346.34 L220.90,346.20 L221.40,346.02 L221.90,345.79 L222.40,345.50 L222.90,345.15 L223.40,344.71 L223.90,344.17 L224.40,343.58 L224.90,342.79 L225.40,342.05 L225.90,340.76 L226.40,339.55 L226.90,338.28 L227.40,337.13 L227.90,335.14 L228.40,333.47 L228.90,331.55 L229.40,328.38 L229.90,325.86 L230.40,324.99 L230.90,320.85 L231.40,318.70 L231.90,316.54 L232.40,314.16 L232.90,310.49 L233.40,308.65 L233.90,305.60 L234.40,303.55 L234.90,303.57 L235.40,299.74 L235.90,297.71 L236.40,296.90 L236.90,297.83 L237.40,300.01 L237.90,300.60 L238.40,301.01 L238.90,299.42 L239.40,303.55 L239.90,305.49 L240.40,306.28 L240.90,310.79 L241.40,313.01 L241.90,316.27 L242.40,320.09 L242.90,321.92 L243.40,324.37 L243.90,328.24 L244.40,330.65 L244.90,332.76 L245.40,335.26 L245.90,336.75 L246.40,338.25 L246.90,339.86 L247.40,341.22 L247.90,342.19 L248.40,343.33 L248.90,343.98 L249.40,344.61 L249.90,345.11 L250.40,345.51 L250.90,345.82 L251.40,346.07 L251.90,346.26 L252.40,346.40 L252.90,346.51 L253.40,346.59 L253.90,346.65 L254.40,346.70 L254.8,346.8 Z" fill="#f08c1c" fill-opacity="0.5" stroke="#f08c1c" stroke-width="0.9" stroke-linejoin="round"/>
<path d="M154.6,247.5 H253.8 V346.8 H154.6 Z" fill="none" stroke="#2b2b2b" stroke-width="1.1"/>
<path d="M152.0,346.60H154.6M152.0,327.10H154.6M152.0,307.60H154.6M152.0,288.10H154.6M152.0,268.60H154.6M152.0,249.10H154.6M153.1,346.80H154.6M153.1,342.90H154.6M153.1,339.00H154.6M153.1,335.10H154.6M153.1,331.20H154.6M153.1,327.30H154.6M153.1,323.40H154.6M153.1,319.50H154.6M153.1,315.60H154.6M153.1,311.70H154.6M153.1,307.80H154.6M153.1,303.90H154.6M153.1,300.00H154.6M153.1,296.10H154.6M153.1,292.20H154.6M153.1,288.30H154.6M153.1,284.40H154.6M153.1,280.50H154.6M153.1,276.60H154.6M153.1,272.70H154.6M153.1,268.80H154.6M153.1,264.90H154.6M153.1,261.00H154.6M153.1,257.10H154.6M153.1,253.20H154.6M153.1,249.30H154.6" stroke="#2b2b2b" stroke-width="0.8" fill="none"/>
<text x="149" y="346.90000000000003" font-size="7.4" text-anchor="end" fill="#262626" stroke="#262626" stroke-width="0.1">0</text>
<text x="149" y="329.6" font-size="7.4" text-anchor="end" fill="#262626" stroke="#262626" stroke-width="0.1">50</text>
<text x="149" y="310.1" font-size="7.4" text-anchor="end" fill="#262626" stroke="#262626" stroke-width="0.1">100</text>
<text x="149" y="290.6" font-size="7.4" text-anchor="end" fill="#262626" stroke="#262626" stroke-width="0.1">150</text>
<text x="149" y="271.1" font-size="7.4" text-anchor="end" fill="#262626" stroke="#262626" stroke-width="0.1">200</text>
<text x="149" y="251.60000000000002" font-size="7.4" text-anchor="end" fill="#262626" stroke="#262626" stroke-width="0.1">250</text>
<text x="193" y="244.8" font-size="10.6" textLength="26.9" lengthAdjust="spacingAndGlyphs" fill="#262626" stroke="#262626" stroke-width="0.1">OPM2</text>
<text x="169.8" y="359.2" font-size="7.2" text-anchor="middle" fill="#262626" stroke="#262626" stroke-width="0.1">0</text>
<text x="199.4" y="359.2" font-size="7.4" text-anchor="middle" fill="#262626" stroke="#262626" stroke-width="0.1">10<tspan font-size="5.3" dy="-2.9">3</tspan></text>
<text x="225" y="359.2" font-size="7.4" text-anchor="middle" fill="#262626" stroke="#262626" stroke-width="0.1">10<tspan font-size="5.3" dy="-2.9">4</tspan></text>
<text x="247" y="359.2" font-size="7.4" text-anchor="middle" fill="#262626" stroke="#262626" stroke-width="0.1">10<tspan font-size="5.3" dy="-2.9">5</tspan></text>
<path d="M169.80,346.8V349.6M198.50,346.8V349.6M222.70,346.8V349.6M246.90,346.8V349.6M160.00,346.8V348.7M162.00,346.8V348.7M164.00,346.8V348.7M166.00,346.8V348.7M168.00,346.8V348.7M172.00,346.8V348.7M174.00,346.8V348.7M176.00,346.8V348.7M178.00,346.8V348.7M181.58,346.8V348.7M185.85,346.8V348.7M188.87,346.8V348.7M191.22,346.8V348.7M193.13,346.8V348.7M194.75,346.8V348.7M196.15,346.8V348.7M197.39,346.8V348.7M205.78,346.8V348.7M210.05,346.8V348.7M213.07,346.8V348.7M215.42,346.8V348.7M217.33,346.8V348.7M218.95,346.8V348.7M220.35,346.8V348.7M221.59,346.8V348.7M229.98,346.8V348.7M234.25,346.8V348.7M237.27,346.8V348.7M239.62,346.8V348.7M241.53,346.8V348.7M243.15,346.8V348.7M244.55,346.8V348.7M245.79,346.8V348.7" stroke="#1e1e1e" stroke-width="0.8" fill="none"/>
<text x="29.4" y="371.9" font-size="9.7" textLength="72.3" lengthAdjust="spacingAndGlyphs" fill="#262626" stroke="#262626" stroke-width="0.1">BODIPY-C12 MFI</text>
<path d="M27,373.3 H250" stroke="#444" stroke-width="0.9"/>
<path d="M249,371.2 L254.5,373.3 L249,375.4 Z" fill="#333"/>
<rect x="30.8" y="381.4" width="6.5" height="6.5" fill="#cf2e52" fill-opacity="0.5" stroke="#cf2e52" stroke-width="0.9"/>
<text x="41.2" y="387.3" font-size="7.8" textLength="32.6" lengthAdjust="spacingAndGlyphs" fill="#262626" stroke="#262626" stroke-width="0.1">Unstained</text>
<rect x="83.8" y="381.4" width="6.5" height="6.5" fill="#1f5f9a" fill-opacity="0.5" stroke="#1f5f9a" stroke-width="0.9"/>
<text x="93.4" y="387.3" font-size="7.8" textLength="59.6" lengthAdjust="spacingAndGlyphs" fill="#262626" stroke="#262626" stroke-width="0.1">Bodipy-C12 1 min</text>
<rect x="166" y="381.4" width="6.5" height="6.5" fill="#3fb54e" fill-opacity="0.5" stroke="#3fb54e" stroke-width="0.9"/>
<text x="175.2" y="387.3" font-size="7.8" textLength="64" lengthAdjust="spacingAndGlyphs" fill="#262626" stroke="#262626" stroke-width="0.1">Bodipy-C12 30 min</text>
<rect x="83.8" y="393.8" width="6.5" height="6.5" fill="#5e2c86" fill-opacity="0.5" stroke="#5e2c86" stroke-width="0.9"/>
<text x="93.4" y="399.8" font-size="7.8" textLength="64" lengthAdjust="spacingAndGlyphs" fill="#262626" stroke="#262626" stroke-width="0.1">Bodipy-C12 10 min</text>
<rect x="166" y="393.8" width="6.5" height="6.5" fill="#f08c1c" fill-opacity="0.5" stroke="#f08c1c" stroke-width="0.9"/>
<text x="175.2" y="399.8" font-size="7.8" textLength="64" lengthAdjust="spacingAndGlyphs" fill="#262626" stroke="#262626" stroke-width="0.1">Bodipy-C12 60 min</text>
<rect x="311.2" y="339.8" width="7.3" height="17.2" fill="#c81e37"/>
<rect x="320.2" y="304.8" width="7.1" height="52.2" fill="#0f508c"/>
<rect x="329.1" y="290.4" width="7.2" height="66.6" fill="#3cb44b"/>
<rect x="338.1" y="279.4" width="6.9" height="77.6" fill="#5f2878"/>
<rect x="347" y="273" width="7.0" height="84.0" fill="#f5911e"/>
<rect x="362.9" y="339.8" width="7.0" height="17.2" fill="#c81e37"/>
<rect x="372" y="313.4" width="6.7" height="43.6" fill="#0f508c"/>
<rect x="380.9" y="315.6" width="6.9" height="41.4" fill="#3cb44b"/>
<rect x="389.7" y="322.7" width="6.7" height="34.3" fill="#5f2878"/>
<rect x="398.5" y="328.9" width="7.0" height="28.1" fill="#f5911e"/>
<rect x="414.1" y="339.8" width="7.3" height="17.2" fill="#c81e37"/>
<rect x="423.2" y="306.5" width="7.1" height="50.5" fill="#0f508c"/>
<rect x="432.3" y="306.9" width="6.8" height="50.1" fill="#3cb44b"/>
<rect x="441" y="314.9" width="6.9" height="42.1" fill="#5f2878"/>
<rect x="449.8" y="321.7" width="7.0" height="35.3" fill="#f5911e"/>
<rect x="465.9" y="339.8" width="7.1" height="17.2" fill="#c81e37"/>
<rect x="474.5" y="317.1" width="7.2" height="39.9" fill="#0f508c"/>
<rect x="483.3" y="319.8" width="7.2" height="37.2" fill="#3cb44b"/>
<rect x="492.4" y="324.9" width="6.9" height="32.1" fill="#5f2878"/>
<rect x="501.2" y="331.1" width="7.0" height="25.9" fill="#f5911e"/>
<path d="M314.85,336.7V343.3M313.35,336.7h3M313.35,343.3h3M323.75,298.5V310.4M322.25,298.5h3M322.25,310.4h3M332.70,284.3V296.4M331.20,284.3h3M331.20,296.4h3M341.55,270.8V287.5M340.05,270.8h3M340.05,287.5h3M350.50,263.3V282.7M349.00,263.3h3M349.00,282.7h3M366.40,338.6V341.2M364.90,338.6h3M364.90,341.2h3M375.35,310.7V314.9M373.85,310.7h3M373.85,314.9h3M384.35,311.7V318.6M382.85,311.7h3M382.85,318.6h3M393.05,318.6V325.3M391.55,318.6h3M391.55,325.3h3M402.00,326.2V331.1M400.50,326.2h3M400.50,331.1h3M417.75,338.3V341.2M416.25,338.3h3M416.25,341.2h3M426.75,304.2V308.5M425.25,304.2h3M425.25,308.5h3M435.70,304.3V308.5M434.20,304.3h3M434.20,308.5h3M444.45,313.2V316.2M442.95,313.2h3M442.95,316.2h3M453.30,317.3V325.9M451.80,317.3h3M451.80,325.9h3M469.45,336.5V343.4M467.95,336.5h3M467.95,343.4h3M478.10,310.4V323.3M476.60,310.4h3M476.60,323.3h3M486.90,311.3V327.9M485.40,311.3h3M485.40,327.9h3M495.85,318.2V331.5M494.35,318.2h3M494.35,331.5h3M504.70,325.5V336.3M503.20,325.5h3M503.20,336.3h3" stroke="#222" stroke-width="0.8" fill="none"/>
<path d="M314.7,330.2V284.6H323.9V294.8 M323.9,284.6V272.8H332.7V278.3 M366.4,338.2V299.4H375.5V310.4 M417.4,338.9V291.9H426.4V301.7 M469.4,335V302.6H478.2V309.8" stroke="#444" stroke-width="0.9" fill="none"/>
<path d="M319.80,278.50L319.80,281.90M318.33,279.35L321.27,281.05M321.27,279.35L318.33,281.05M370.90,291.90L370.90,295.30M369.43,292.75L372.37,294.45M372.37,292.75L369.43,294.45M422.30,285.40L422.30,288.80M420.83,286.25L423.77,287.95M423.77,286.25L420.83,287.95M473.90,296.20L473.90,299.60M472.43,297.05L475.37,298.75M475.37,297.05L472.43,298.75" stroke="#333" stroke-width="0.85" fill="none"/>
<text x="328.3" y="270.6" font-size="9" text-anchor="middle" textLength="13.5" lengthAdjust="spacingAndGlyphs" fill="#262626" stroke="#262626" stroke-width="0.1">NS</text>
<path d="M308,254.3V357.3 M307.5,357H512" stroke="#2b2b2b" stroke-width="1" fill="none"/>
<path d="M304.5,254.8H308M304.5,288.7H308M304.5,322.8H308M304.5,357H308M332.7,357V359.4M383.7,357V359.4M435.2,357V359.4M486.3,357V359.4" stroke="#2b2b2b" stroke-width="0.9" fill="none"/>
<text x="302.3" y="257.6" font-size="8" text-anchor="end" fill="#262626" stroke="#262626" stroke-width="0.1">600</text>
<text x="302.3" y="291.5" font-size="8" text-anchor="end" fill="#262626" stroke="#262626" stroke-width="0.1">400</text>
<text x="302.3" y="325.6" font-size="8" text-anchor="end" fill="#262626" stroke="#262626" stroke-width="0.1">200</text>
<text x="302.3" y="359.8" font-size="8" text-anchor="end" fill="#262626" stroke="#262626" stroke-width="0.1">0</text>
<text x="320" y="370" font-size="9.1" textLength="26.2" lengthAdjust="spacingAndGlyphs" fill="#262626" stroke="#262626" stroke-width="0.1">5TGM1</text>
<text x="371.2" y="370" font-size="9.1" textLength="25" lengthAdjust="spacingAndGlyphs" fill="#262626" stroke="#262626" stroke-width="0.1">MM.1S</text>
<text x="416.1" y="370" font-size="9.1" textLength="37.9" lengthAdjust="spacingAndGlyphs" fill="#262626" stroke="#262626" stroke-width="0.1">RPMI 8266</text>
<text x="477.6" y="370" font-size="9.1" textLength="18.8" lengthAdjust="spacingAndGlyphs" fill="#262626" stroke="#262626" stroke-width="0.1">U266</text>
<text transform="translate(283.7,351.5) rotate(-90)" font-size="9.6" fill="#262626" stroke="#262626" stroke-width="0.2" textLength="91" lengthAdjust="spacingAndGlyphs">% Relative fatty acid uptake</text>
<rect x="468.1" y="251.30" width="10.6" height="4.3" fill="#c81e37"/>
<text x="481.9" y="256.2" font-size="7.2" fill="#262626" stroke="#262626" stroke-width="0.1">1 min</text>
<rect x="468.1" y="259.45" width="10.6" height="4.3" fill="#0f508c"/>
<text x="481.9" y="264.34999999999997" font-size="7.2" fill="#262626" stroke="#262626" stroke-width="0.1">10 min</text>
<rect x="468.1" y="267.60" width="10.6" height="4.3" fill="#3cb44b"/>
<text x="481.9" y="272.5" font-size="7.2" fill="#262626" stroke="#262626" stroke-width="0.1">30 min</text>
<rect x="468.1" y="275.75" width="10.6" height="4.3" fill="#5f2878"/>
<text x="481.9" y="280.65" font-size="7.2" fill="#262626" stroke="#262626" stroke-width="0.1">60 min</text>
<rect x="468.1" y="283.90" width="10.6" height="4.3" fill="#f5911e"/>
<text x="481.9" y="288.8" font-size="7.2" fill="#262626" stroke="#262626" stroke-width="0.1">120 min</text>
<path d="M37.7,530.0 L37.72,529.87 L38.22,529.72 L38.72,529.43 L39.22,528.88 L39.72,527.93 L40.22,526.34 L40.72,523.84 L41.22,520.05 L41.72,514.50 L42.22,507.73 L42.72,498.86 L43.22,488.40 L43.72,478.01 L44.22,466.18 L44.72,455.90 L45.22,447.79 L45.72,445.96 L46.22,445.00 L46.72,449.39 L47.22,454.30 L47.72,464.42 L48.22,476.97 L48.72,486.40 L49.22,497.10 L49.72,506.59 L50.22,513.94 L50.72,519.66 L51.22,523.58 L51.72,526.09 L52.22,527.78 L52.72,528.79 L53.22,529.38 L53.72,529.69 L54.22,529.86 L54.3,530.0 Z" fill="#cf2e52" fill-opacity="0.58" stroke="#cf2e52" stroke-width="0.9" stroke-linejoin="round"/>
<path d="M38.2,530.0 L38.18,529.90 L38.68,529.85 L39.18,529.77 L39.68,529.66 L40.18,529.51 L40.68,529.29 L41.18,529.00 L41.68,528.60 L42.18,528.06 L42.68,527.36 L43.18,526.46 L43.68,525.29 L44.18,523.85 L44.68,522.26 L45.18,520.24 L45.68,517.62 L46.18,514.81 L46.68,511.14 L47.18,507.52 L47.68,503.54 L48.18,499.25 L48.68,494.55 L49.18,490.70 L49.68,485.62 L50.18,481.71 L50.68,476.04 L51.18,474.21 L51.68,469.36 L52.18,468.81 L52.68,465.72 L53.18,465.94 L53.68,465.83 L54.18,465.10 L54.68,467.89 L55.18,468.75 L55.68,467.91 L56.18,470.43 L56.68,473.17 L57.18,473.13 L57.68,475.44 L58.18,479.53 L58.68,481.36 L59.18,484.46 L59.68,486.77 L60.18,488.94 L60.68,492.37 L61.18,494.28 L61.68,497.82 L62.18,500.25 L62.68,502.04 L63.18,504.94 L63.68,507.26 L64.18,509.33 L64.68,511.52 L65.18,513.54 L65.68,515.57 L66.18,516.86 L66.68,518.31 L67.18,519.75 L67.68,521.16 L68.18,522.42 L68.68,523.45 L69.18,524.29 L69.68,525.12 L70.18,525.93 L70.68,526.54 L71.18,527.05 L71.68,527.52 L72.18,527.93 L72.68,528.28 L73.18,528.57 L73.68,528.83 L74.18,529.04 L74.68,529.22 L75.18,529.36 L75.68,529.49 L76.18,529.59 L76.68,529.67 L77.18,529.74 L77.68,529.79 L78.18,529.84 L78.68,529.87 L79.18,529.90 L79.2,530.0 Z" fill="#1f5f9a" fill-opacity="0.5" stroke="#1f5f9a" stroke-width="0.9" stroke-linejoin="round"/>
<path d="M76.5,530.0 L76.54,529.89 L77.04,529.82 L77.54,529.71 L78.04,529.55 L78.54,529.30 L79.04,528.95 L79.54,528.44 L80.04,527.73 L80.54,526.76 L81.04,525.54 L81.54,523.71 L82.04,521.53 L82.54,518.71 L83.04,515.94 L83.54,512.09 L84.04,507.79 L84.54,502.72 L85.04,496.26 L85.54,491.73 L86.04,484.76 L86.54,479.76 L87.04,473.95 L87.54,468.46 L88.04,462.65 L88.54,460.38 L89.04,460.98 L89.54,459.30 L90.04,460.84 L90.54,460.50 L91.04,464.98 L91.54,470.44 L92.04,476.67 L92.54,483.69 L93.04,490.08 L93.54,497.13 L94.04,504.19 L94.54,508.83 L95.04,514.00 L95.54,517.75 L96.04,521.09 L96.54,523.65 L97.04,525.57 L97.54,526.95 L98.04,527.96 L98.54,528.67 L99.04,529.16 L99.54,529.48 L100.04,529.68 L100.54,529.81 L101.0,530.0 Z" fill="#3fb54e" fill-opacity="0.5" stroke="#3fb54e" stroke-width="0.9" stroke-linejoin="round"/>
<path d="M26.2,439.5 H117 V530 H26.2 Z" fill="none" stroke="#2b2b2b" stroke-width="1.1"/>
<path d="M23.0,530.00H26.2M23.0,508.91H26.2M23.0,487.82H26.2M23.0,466.73H26.2M23.0,445.64H26.2M24.2,530.00H26.2M24.2,522.97H26.2M24.2,515.94H26.2M24.2,508.91H26.2M24.2,501.88H26.2M24.2,494.85H26.2M24.2,487.82H26.2M24.2,480.79H26.2M24.2,473.76H26.2M24.2,466.73H26.2M24.2,459.70H26.2M24.2,452.67H26.2M24.2,445.64H26.2" stroke="#2b2b2b" stroke-width="0.8" fill="none"/>
<text x="20.5" y="532.4" font-size="7.2" text-anchor="end" fill="#262626" stroke="#262626" stroke-width="0.1">0</text>
<text x="20.5" y="511.31" font-size="7.2" text-anchor="end" fill="#262626" stroke="#262626" stroke-width="0.1">300</text>
<text x="20.5" y="490.21999999999997" font-size="7.2" text-anchor="end" fill="#262626" stroke="#262626" stroke-width="0.1">600</text>
<text x="20.5" y="469.13" font-size="7.2" text-anchor="end" fill="#262626" stroke="#262626" stroke-width="0.1">900</text>
<text x="20.5" y="448.03999999999996" font-size="7.2" text-anchor="end" fill="#262626" stroke="#262626" stroke-width="0.1">1.2K</text>
<text x="56" y="435.1" font-size="10.6" textLength="30.5" lengthAdjust="spacingAndGlyphs" fill="#262626" stroke="#262626" stroke-width="0.1">5TGM1</text>
<text x="31.7" y="540.4" font-size="7.4" text-anchor="middle" fill="#262626">−10<tspan font-size="5.3" dy="-2.9">3</tspan></text>
<text x="47.9" y="540.4" font-size="7.4" text-anchor="middle" fill="#262626" stroke="#262626" stroke-width="0.1">0</text>
<text x="61.3" y="540.4" font-size="7.4" text-anchor="middle" fill="#262626" stroke="#262626" stroke-width="0.1">10<tspan font-size="5.3" dy="-2.9">3</tspan></text>
<text x="85.7" y="540.4" font-size="7.4" text-anchor="middle" fill="#262626" stroke="#262626" stroke-width="0.1">10<tspan font-size="5.3" dy="-2.9">4</tspan></text>
<text x="105.8" y="540.4" font-size="7.4" text-anchor="middle" fill="#262626" stroke="#262626" stroke-width="0.1">10<tspan font-size="5.3" dy="-2.9">5</tspan></text>
<path d="M31.00,530V532.8M47.90,530V532.8M60.00,530V532.8M83.00,530V532.8M106.00,530V532.8M33.00,530V531.9M35.00,530V531.9M37.00,530V531.9M39.00,530V531.9M41.00,530V531.9M43.00,530V531.9M45.00,530V531.9M50.00,530V531.9M52.00,530V531.9M54.00,530V531.9M66.92,530V531.9M70.97,530V531.9M73.85,530V531.9M76.08,530V531.9M77.90,530V531.9M79.44,530V531.9M80.77,530V531.9M81.95,530V531.9M89.92,530V531.9M93.97,530V531.9M96.85,530V531.9M99.08,530V531.9M100.90,530V531.9M102.44,530V531.9M103.77,530V531.9M104.95,530V531.9" stroke="#1e1e1e" stroke-width="0.8" fill="none"/>
<path d="M167.8,529.8 L167.80,529.49 L168.30,529.42 L168.80,529.10 L169.30,528.33 L169.80,526.90 L170.30,524.51 L170.80,520.34 L171.30,514.33 L171.80,505.72 L172.30,495.90 L172.80,483.78 L173.30,469.95 L173.80,458.27 L174.30,450.39 L174.80,444.50 L175.30,445.54 L175.80,447.20 L176.30,454.56 L176.80,461.35 L177.30,468.09 L177.80,478.48 L178.30,487.72 L178.80,495.50 L179.30,503.49 L179.80,510.50 L180.30,515.58 L180.80,519.78 L181.30,523.12 L181.80,524.67 L182.30,524.78 L182.80,524.77 L183.30,524.90 L183.80,524.98 L184.30,524.96 L184.80,525.24 L185.1,529.8 Z" fill="#cf2e52" fill-opacity="0.58" stroke="#cf2e52" stroke-width="0.9" stroke-linejoin="round"/>
<path d="M170.3,529.8 L170.26,529.67 L170.76,529.53 L171.26,529.27 L171.76,528.78 L172.26,527.95 L172.76,526.58 L173.26,524.34 L173.76,521.40 L174.26,516.58 L174.76,510.90 L175.26,502.41 L175.76,494.44 L176.26,482.76 L176.76,472.37 L177.26,461.65 L177.76,452.48 L178.26,448.76 L178.76,445.64 L179.26,444.50 L179.76,447.15 L180.26,449.34 L180.76,452.45 L181.26,454.34 L181.76,458.81 L182.26,464.04 L182.76,470.79 L183.26,474.73 L183.76,481.22 L184.26,487.22 L184.76,492.17 L185.26,497.28 L185.76,502.36 L186.26,506.15 L186.76,510.20 L187.26,513.48 L187.76,516.29 L188.26,519.03 L188.76,521.30 L189.26,522.98 L189.76,524.47 L190.26,525.20 L190.76,525.35 L191.26,525.68 L191.76,525.96 L192.26,526.26 L192.76,526.56 L193.26,526.87 L193.76,527.18 L194.26,527.47 L194.76,527.76 L195.26,528.03 L195.5,529.8 Z" fill="#1f5f9a" fill-opacity="0.5" stroke="#1f5f9a" stroke-width="0.9" stroke-linejoin="round"/>
<path d="M193.9,529.8 L193.88,529.71 L194.38,529.64 L194.88,529.53 L195.38,529.36 L195.88,529.09 L196.38,528.69 L196.88,528.10 L197.38,527.25 L197.88,526.09 L198.38,524.48 L198.88,522.42 L199.38,519.76 L199.88,516.52 L200.38,512.45 L200.88,508.24 L201.38,502.84 L201.88,498.20 L202.38,492.29 L202.88,486.80 L203.38,482.13 L203.88,476.56 L204.38,474.13 L204.88,470.88 L205.38,469.70 L205.88,471.80 L206.38,471.71 L206.88,474.20 L207.38,477.57 L207.88,482.49 L208.38,485.80 L208.88,489.96 L209.38,495.02 L209.88,499.62 L210.38,503.88 L210.88,508.02 L211.38,511.37 L211.88,515.05 L212.38,517.94 L212.88,520.37 L213.38,522.39 L213.88,524.29 L214.38,525.71 L214.88,526.67 L215.38,527.57 L215.88,528.20 L216.38,528.68 L216.88,529.02 L217.38,529.27 L217.88,529.45 L218.38,529.57 L218.88,529.65 L219.38,529.70 L219.4,529.8 Z" fill="#3fb54e" fill-opacity="0.5" stroke="#3fb54e" stroke-width="0.9" stroke-linejoin="round"/>
<path d="M152.7,441 H242.5 V529.8 H152.7 Z" fill="none" stroke="#2b2b2b" stroke-width="1.1"/>
<path d="M149.5,529.70H152.7M149.5,506.84H152.7M149.5,483.98H152.7M149.5,461.12H152.7M150.7,529.80H152.7M150.7,525.23H152.7M150.7,520.66H152.7M150.7,516.08H152.7M150.7,511.51H152.7M150.7,506.94H152.7M150.7,502.37H152.7M150.7,497.80H152.7M150.7,493.22H152.7M150.7,488.65H152.7M150.7,484.08H152.7M150.7,479.51H152.7M150.7,474.94H152.7M150.7,470.36H152.7M150.7,465.79H152.7M150.7,461.22H152.7M150.7,456.65H152.7M150.7,452.08H152.7M150.7,447.50H152.7M150.7,442.93H152.7" stroke="#2b2b2b" stroke-width="0.8" fill="none"/>
<text x="146.7" y="532.1" font-size="7.2" text-anchor="end" fill="#262626" stroke="#262626" stroke-width="0.1">0</text>
<text x="146.7" y="509.24" font-size="7.2" text-anchor="end" fill="#262626" stroke="#262626" stroke-width="0.1">500</text>
<text x="146.7" y="486.38" font-size="7.2" text-anchor="end" fill="#262626" stroke="#262626" stroke-width="0.1">1.0K</text>
<text x="146.7" y="463.52000000000004" font-size="7.2" text-anchor="end" fill="#262626" stroke="#262626" stroke-width="0.1">1.5K</text>
<text x="184" y="436.7" font-size="10.6" textLength="27.2" lengthAdjust="spacingAndGlyphs" fill="#262626" stroke="#262626" stroke-width="0.1">OPM2</text>
<text x="159" y="540.2" font-size="7.4" text-anchor="middle" fill="#262626">−10<tspan font-size="5.3" dy="-2.9">3</tspan></text>
<text x="175.2" y="540.2" font-size="7.4" text-anchor="middle" fill="#262626" stroke="#262626" stroke-width="0.1">0</text>
<text x="189.2" y="540.2" font-size="7.4" text-anchor="middle" fill="#262626" stroke="#262626" stroke-width="0.1">10<tspan font-size="5.3" dy="-2.9">3</tspan></text>
<text x="213.4" y="540.2" font-size="7.4" text-anchor="middle" fill="#262626" stroke="#262626" stroke-width="0.1">10<tspan font-size="5.3" dy="-2.9">4</tspan></text>
<text x="234.9" y="540.2" font-size="7.4" text-anchor="middle" fill="#262626" stroke="#262626" stroke-width="0.1">10<tspan font-size="5.3" dy="-2.9">5</tspan></text>
<path d="M158.00,529.8V532.5999999999999M175.20,529.8V532.5999999999999M188.00,529.8V532.5999999999999M211.50,529.8V532.5999999999999M235.00,529.8V532.5999999999999M160.00,529.8V531.6999999999999M162.00,529.8V531.6999999999999M164.00,529.8V531.6999999999999M166.00,529.8V531.6999999999999M168.00,529.8V531.6999999999999M170.00,529.8V531.6999999999999M172.00,529.8V531.6999999999999M178.00,529.8V531.6999999999999M180.00,529.8V531.6999999999999M182.00,529.8V531.6999999999999M195.07,529.8V531.6999999999999M199.21,529.8V531.6999999999999M202.15,529.8V531.6999999999999M204.43,529.8V531.6999999999999M206.29,529.8V531.6999999999999M207.86,529.8V531.6999999999999M209.22,529.8V531.6999999999999M210.42,529.8V531.6999999999999M218.57,529.8V531.6999999999999M222.71,529.8V531.6999999999999M225.65,529.8V531.6999999999999M227.93,529.8V531.6999999999999M229.79,529.8V531.6999999999999M231.36,529.8V531.6999999999999M232.72,529.8V531.6999999999999M233.92,529.8V531.6999999999999" stroke="#1e1e1e" stroke-width="0.8" fill="none"/>
<text x="26.9" y="553.4" font-size="9.8" font-weight="bold" fill="#c8102e" textLength="127.3" lengthAdjust="spacingAndGlyphs">LipidTox staining in MM cells</text>
<path d="M26,556.7 H248" stroke="#444" stroke-width="0.9"/>
<path d="M247,554.6 L252.5,556.7 L247,558.8 Z" fill="#333"/>
<rect x="30.6" y="565" width="6.4" height="6.4" fill="#cf2e52" fill-opacity="0.5" stroke="#cf2e52" stroke-width="0.9"/>
<text x="39.6" y="570.6" font-size="8.0" textLength="63.9" lengthAdjust="spacingAndGlyphs" fill="#262626" stroke="#262626" stroke-width="0.1">MM cells unstained</text>
<rect x="110" y="565" width="6.4" height="6.4" fill="#1f5f9a" fill-opacity="0.5" stroke="#1f5f9a" stroke-width="0.9"/>
<text x="119.2" y="570.6" font-size="8.0" textLength="102.3" lengthAdjust="spacingAndGlyphs" fill="#262626" stroke="#262626" stroke-width="0.1">MM cells stained with LipidTox</text>
<rect x="110" y="577.4" width="6.4" height="6.4" fill="#3fb54e" fill-opacity="0.5" stroke="#3fb54e" stroke-width="0.9"/>
<text x="119.2" y="582.7" font-size="8.0" textLength="86" lengthAdjust="spacingAndGlyphs" fill="#262626" stroke="#262626" stroke-width="0.1">MM cells co-cultured with</text>
<text x="119.2" y="591.7" font-size="8.0" textLength="125" lengthAdjust="spacingAndGlyphs" fill="#262626" stroke="#262626" stroke-width="0.1">OP9 adipocytes stained with LipidTox</text>
<path d="M312.3,529.9 L312.34,529.78 L312.84,529.70 L313.34,529.59 L313.84,529.41 L314.34,529.14 L314.84,528.75 L315.34,528.20 L315.84,527.43 L316.34,526.37 L316.84,525.09 L317.34,523.02 L317.84,520.68 L318.34,517.87 L318.84,514.64 L319.34,509.60 L319.84,504.56 L320.34,499.64 L320.84,493.63 L321.34,488.15 L321.84,482.64 L322.34,474.77 L322.84,467.63 L323.34,464.87 L323.84,456.27 L324.34,456.14 L324.84,454.08 L325.34,454.66 L325.84,449.50 L326.34,453.23 L326.84,455.79 L327.34,461.65 L327.84,469.76 L328.34,473.96 L328.84,479.30 L329.34,486.88 L329.84,490.26 L330.34,497.83 L330.84,503.66 L331.34,507.25 L331.84,512.67 L332.34,515.38 L332.84,519.03 L333.34,521.54 L333.84,523.73 L334.34,525.29 L334.84,526.56 L335.34,527.52 L335.84,528.23 L336.34,528.75 L336.84,529.12 L337.34,529.38 L337.84,529.56 L338.34,529.68 L338.84,529.76 L339.0,529.9 Z" fill="#cf2e52" fill-opacity="0.58" stroke="#cf2e52" stroke-width="0.9" stroke-linejoin="round"/>
<path d="M366.0,529.9 L366.00,529.89 L366.50,529.89 L367.00,529.87 L367.50,529.84 L368.00,529.78 L368.50,529.67 L369.00,529.46 L369.50,529.09 L370.00,528.48 L370.50,527.49 L371.00,525.96 L371.50,523.51 L372.00,520.67 L372.50,516.48 L373.00,509.83 L373.50,503.92 L374.00,496.00 L374.50,485.71 L375.00,477.12 L375.50,465.98 L376.00,460.47 L376.50,450.95 L377.00,450.15 L377.50,447.86 L378.00,447.50 L378.50,451.62 L379.00,455.02 L379.50,461.65 L380.00,470.65 L380.50,474.83 L381.00,483.08 L381.50,490.92 L382.00,497.84 L382.50,502.86 L383.00,508.78 L383.50,513.16 L384.00,517.30 L384.50,520.43 L385.00,523.17 L385.50,525.07 L386.00,526.57 L386.50,527.63 L387.00,528.39 L387.50,528.91 L388.00,529.27 L388.50,529.50 L389.00,529.66 L389.50,529.76 L389.6,529.9 Z" fill="#1f5f9a" fill-opacity="0.5" stroke="#1f5f9a" stroke-width="0.9" stroke-linejoin="round"/>
<path d="M357.9,529.9 L357.90,529.80 L358.40,529.75 L358.90,529.66 L359.40,529.54 L359.90,529.37 L360.40,529.12 L360.90,528.78 L361.40,528.32 L361.90,527.70 L362.40,526.87 L362.90,525.67 L363.40,524.26 L363.90,522.54 L364.40,521.00 L364.90,518.12 L365.40,515.36 L365.90,511.85 L366.40,508.73 L366.90,504.51 L367.40,499.46 L367.90,495.33 L368.40,489.79 L368.90,486.50 L369.40,481.77 L369.90,474.91 L370.40,472.42 L370.90,468.94 L371.40,465.59 L371.90,466.20 L372.40,467.49 L372.90,465.30 L373.40,469.88 L373.90,474.89 L374.40,481.59 L374.90,487.64 L375.40,496.77 L375.90,502.73 L376.40,509.67 L376.90,514.64 L377.40,518.88 L377.90,522.48 L378.40,525.02 L378.90,526.64 L379.40,527.86 L379.90,528.67 L380.40,529.18 L380.90,529.49 L381.40,529.68 L381.90,529.78 L382.0,529.9 Z" fill="#3fb54e" fill-opacity="0.5" stroke="#3fb54e" stroke-width="0.9" stroke-linejoin="round"/>
<path d="M299.4,441.1 H395.8 V529.9 H299.4 Z" fill="none" stroke="#2b2b2b" stroke-width="1.1"/>
<path d="M296.2,529.50H299.4M296.2,508.69H299.4M296.2,487.87H299.4M296.2,467.06H299.4M296.2,446.24H299.4M297.4,529.90H299.4M297.4,525.74H299.4M297.4,521.57H299.4M297.4,517.41H299.4M297.4,513.25H299.4M297.4,509.08H299.4M297.4,504.92H299.4M297.4,500.76H299.4M297.4,496.60H299.4M297.4,492.43H299.4M297.4,488.27H299.4M297.4,484.11H299.4M297.4,479.94H299.4M297.4,475.78H299.4M297.4,471.62H299.4M297.4,467.45H299.4M297.4,463.29H299.4M297.4,459.13H299.4M297.4,454.97H299.4M297.4,450.80H299.4M297.4,446.64H299.4M297.4,442.48H299.4" stroke="#2b2b2b" stroke-width="0.8" fill="none"/>
<text x="293.8" y="531.9" font-size="7.2" text-anchor="end" fill="#262626" stroke="#262626" stroke-width="0.1">0</text>
<text x="293.8" y="511.085" font-size="7.2" text-anchor="end" fill="#262626" stroke="#262626" stroke-width="0.1">50</text>
<text x="293.8" y="490.27" font-size="7.2" text-anchor="end" fill="#262626" stroke="#262626" stroke-width="0.1">100</text>
<text x="293.8" y="469.455" font-size="7.2" text-anchor="end" fill="#262626" stroke="#262626" stroke-width="0.1">150</text>
<text x="293.8" y="448.64" font-size="7.2" text-anchor="end" fill="#262626" stroke="#262626" stroke-width="0.1">200</text>
<text x="334.8" y="437.2" font-size="10.6" textLength="30.4" lengthAdjust="spacingAndGlyphs" fill="#262626" stroke="#262626" stroke-width="0.1">5TGM1</text>
<text x="320.8" y="540.2" font-size="7.4" text-anchor="middle" fill="#262626" stroke="#262626" stroke-width="0.1">0</text>
<text x="361.5" y="540.2" font-size="7.4" text-anchor="middle" fill="#262626" stroke="#262626" stroke-width="0.1">10<tspan font-size="5.3" dy="-2.9">4</tspan></text>
<text x="382.8" y="540.2" font-size="7.4" text-anchor="middle" fill="#262626" stroke="#262626" stroke-width="0.1">10<tspan font-size="5.3" dy="-2.9">5</tspan></text>
<path d="M320.80,529.9V532.6999999999999M360.00,529.9V532.6999999999999M381.50,529.9V532.6999999999999M310.00,529.9V531.8M312.00,529.9V531.8M314.00,529.9V531.8M316.00,529.9V531.8M318.00,529.9V531.8M323.00,529.9V531.8M325.00,529.9V531.8M327.00,529.9V531.8M329.00,529.9V531.8M323.47,529.9V531.8M327.26,529.9V531.8M329.94,529.9V531.8M332.03,529.9V531.8M333.73,529.9V531.8M335.17,529.9V531.8M336.42,529.9V531.8M337.52,529.9V531.8M344.97,529.9V531.8M348.76,529.9V531.8M351.44,529.9V531.8M353.53,529.9V531.8M355.23,529.9V531.8M356.67,529.9V531.8M357.92,529.9V531.8M359.02,529.9V531.8M366.47,529.9V531.8M370.26,529.9V531.8M372.94,529.9V531.8M375.03,529.9V531.8M376.73,529.9V531.8M378.17,529.9V531.8M379.42,529.9V531.8M380.52,529.9V531.8" stroke="#1e1e1e" stroke-width="0.8" fill="none"/>
<text x="303.5" y="452" font-size="8.0" textLength="18.4" lengthAdjust="spacingAndGlyphs" fill="#262626" stroke="#262626" stroke-width="0.1">MFI=</text>
<text x="306.1" y="461.5" font-size="8.0" textLength="13.1" lengthAdjust="spacingAndGlyphs" fill="#262626" stroke="#262626" stroke-width="0.1">265</text>
<text x="347.1" y="464.8" font-size="8.0" textLength="18.6" lengthAdjust="spacingAndGlyphs" fill="#262626" stroke="#262626" stroke-width="0.1">MFI=</text>
<text x="347.1" y="474.5" font-size="8.0" textLength="21" lengthAdjust="spacingAndGlyphs" fill="#262626" stroke="#262626" stroke-width="0.1">22027</text>
<text x="373.8" y="449.2" font-size="8.0" textLength="18.5" lengthAdjust="spacingAndGlyphs" fill="#262626" stroke="#262626" stroke-width="0.1">MFI=</text>
<text x="373.8" y="458.3" font-size="8.0" textLength="21.2" lengthAdjust="spacingAndGlyphs" fill="#262626" stroke="#262626" stroke-width="0.1">39861</text>
<path d="M432.7,529.3 L432.68,529.19 L433.18,529.11 L433.68,528.97 L434.18,528.76 L434.68,528.42 L435.18,527.92 L435.68,527.18 L436.18,526.13 L436.68,524.59 L437.18,522.52 L437.68,520.34 L438.18,516.32 L438.68,513.16 L439.18,507.61 L439.68,503.17 L440.18,495.34 L440.68,490.42 L441.18,481.61 L441.68,474.62 L442.18,468.01 L442.68,464.18 L443.18,457.65 L443.68,454.20 L444.18,458.31 L444.68,456.73 L445.18,456.65 L445.68,461.80 L446.18,468.40 L446.68,474.94 L447.18,478.82 L447.68,488.69 L448.18,493.17 L448.68,499.36 L449.18,506.49 L449.68,511.11 L450.18,515.34 L450.68,518.61 L451.18,521.56 L451.68,523.51 L452.18,525.23 L452.68,526.60 L453.18,527.13 L453.68,527.17 L454.18,527.21 L454.68,527.26 L455.18,527.32 L455.68,527.39 L456.1,529.3 Z" fill="#cf2e52" fill-opacity="0.58" stroke="#cf2e52" stroke-width="0.9" stroke-linejoin="round"/>
<path d="M474.0,529.3 L474.00,529.23 L474.50,529.15 L475.00,528.97 L475.50,528.62 L476.00,527.96 L476.50,526.79 L477.00,524.89 L477.50,521.62 L478.00,517.07 L478.50,511.40 L479.00,502.43 L479.50,492.98 L480.00,483.71 L480.50,469.79 L481.00,462.30 L481.50,454.40 L482.00,449.45 L482.50,448.10 L483.00,452.43 L483.50,454.15 L484.00,459.76 L484.50,468.54 L485.00,475.88 L485.50,484.93 L486.00,492.72 L486.50,501.48 L487.00,507.71 L487.50,513.11 L488.00,517.85 L488.50,520.83 L489.00,523.64 L489.50,525.59 L490.00,526.92 L490.50,527.81 L491.00,528.40 L491.50,528.77 L492.00,529.00 L492.50,529.13 L492.7,529.3 Z" fill="#1f5f9a" fill-opacity="0.5" stroke="#1f5f9a" stroke-width="0.9" stroke-linejoin="round"/>
<path d="M466.2,529.3 L466.22,529.20 L466.72,529.13 L467.22,529.01 L467.72,528.83 L468.22,528.54 L468.72,528.12 L469.22,527.51 L469.72,526.64 L470.22,525.36 L470.72,523.95 L471.22,521.87 L471.72,518.90 L472.22,516.12 L472.72,511.21 L473.22,506.43 L473.72,502.62 L474.22,495.33 L474.72,489.74 L475.22,483.14 L475.72,475.90 L476.22,470.27 L476.72,468.51 L477.22,463.03 L477.72,461.39 L478.22,460.00 L478.72,466.35 L479.22,464.78 L479.72,472.82 L480.22,478.78 L480.72,483.30 L481.22,489.33 L481.72,495.85 L482.22,503.55 L482.72,508.35 L483.22,514.31 L483.72,517.31 L484.22,521.10 L484.72,523.42 L485.22,525.42 L485.72,526.65 L486.22,527.59 L486.72,528.22 L487.22,528.64 L487.72,528.91 L488.22,529.07 L488.72,529.17 L488.9,529.3 Z" fill="#3fb54e" fill-opacity="0.5" stroke="#3fb54e" stroke-width="0.9" stroke-linejoin="round"/>
<path d="M421.2,442.3 H509.8 V529.6 H421.2 Z" fill="none" stroke="#2b2b2b" stroke-width="1.1"/>
<path d="M418.0,529.00H421.2M418.0,505.08H421.2M418.0,481.16H421.2M418.0,457.24H421.2M419.2,529.30H421.2M419.2,523.32H421.2M419.2,517.34H421.2M419.2,511.36H421.2M419.2,505.38H421.2M419.2,499.40H421.2M419.2,493.42H421.2M419.2,487.44H421.2M419.2,481.46H421.2M419.2,475.48H421.2M419.2,469.50H421.2M419.2,463.52H421.2M419.2,457.54H421.2M419.2,451.56H421.2M419.2,445.58H421.2" stroke="#2b2b2b" stroke-width="0.8" fill="none"/>
<text x="416" y="531.4" font-size="7.2" text-anchor="end" fill="#262626" stroke="#262626" stroke-width="0.1">0</text>
<text x="416" y="507.47999999999996" font-size="7.2" text-anchor="end" fill="#262626" stroke="#262626" stroke-width="0.1">200</text>
<text x="416" y="483.56" font-size="7.2" text-anchor="end" fill="#262626" stroke="#262626" stroke-width="0.1">400</text>
<text x="416" y="459.64" font-size="7.2" text-anchor="end" fill="#262626" stroke="#262626" stroke-width="0.1">600</text>
<text x="455" y="438.1" font-size="10.6" textLength="26.9" lengthAdjust="spacingAndGlyphs" fill="#262626" stroke="#262626" stroke-width="0.1">OPM2</text>
<text x="424.8" y="540.6" font-size="7.4" text-anchor="middle" fill="#262626">−10<tspan font-size="5.3" dy="-2.9">3</tspan></text>
<text x="441.5" y="540.6" font-size="7.4" text-anchor="middle" fill="#262626" stroke="#262626" stroke-width="0.1">0</text>
<text x="454.7" y="540.6" font-size="7.4" text-anchor="middle" fill="#262626" stroke="#262626" stroke-width="0.1">10<tspan font-size="5.3" dy="-2.9">3</tspan></text>
<text x="478.7" y="540.6" font-size="7.4" text-anchor="middle" fill="#262626" stroke="#262626" stroke-width="0.1">10<tspan font-size="5.3" dy="-2.9">4</tspan></text>
<text x="500.3" y="540.6" font-size="7.4" text-anchor="middle" fill="#262626" stroke="#262626" stroke-width="0.1">10<tspan font-size="5.3" dy="-2.9">5</tspan></text>
<path d="M424.80,529.6V532.4M441.50,529.6V532.4M453.50,529.6V532.4M476.80,529.6V532.4M500.10,529.6V532.4M427.00,529.6V531.5M429.00,529.6V531.5M431.00,529.6V531.5M433.00,529.6V531.5M435.00,529.6V531.5M437.00,529.6V531.5M439.00,529.6V531.5M444.00,529.6V531.5M446.00,529.6V531.5M448.00,529.6V531.5M460.51,529.6V531.5M464.62,529.6V531.5M467.53,529.6V531.5M469.79,529.6V531.5M471.63,529.6V531.5M473.19,529.6V531.5M474.54,529.6V531.5M475.73,529.6V531.5M483.81,529.6V531.5M487.92,529.6V531.5M490.83,529.6V531.5M493.09,529.6V531.5M494.93,529.6V531.5M496.49,529.6V531.5M497.84,529.6V531.5M499.03,529.6V531.5" stroke="#1e1e1e" stroke-width="0.8" fill="none"/>
<text x="427.9" y="454" font-size="8.0" textLength="18.3" lengthAdjust="spacingAndGlyphs" fill="#262626" stroke="#262626" stroke-width="0.1">MFI=</text>
<text x="427.9" y="463.8" font-size="8.0" textLength="12.7" lengthAdjust="spacingAndGlyphs" fill="#262626" stroke="#262626" stroke-width="0.1">200</text>
<text x="456.7" y="466.3" font-size="8.0" textLength="18.3" lengthAdjust="spacingAndGlyphs" fill="#262626" stroke="#262626" stroke-width="0.1">MFI=</text>
<text x="456.7" y="475.3" font-size="8.0" textLength="16.6" lengthAdjust="spacingAndGlyphs" fill="#262626" stroke="#262626" stroke-width="0.1">7697</text>
<text x="484.2" y="451.8" font-size="8.0" textLength="18.3" lengthAdjust="spacingAndGlyphs" fill="#262626" stroke="#262626" stroke-width="0.1">MFI=</text>
<text x="484.2" y="461.3" font-size="8.0" textLength="21.2" lengthAdjust="spacingAndGlyphs" fill="#262626" stroke="#262626" stroke-width="0.1">12184</text>
<text x="285.8" y="553.8" font-size="9.8" font-weight="bold" fill="#c8102e" textLength="128" lengthAdjust="spacingAndGlyphs">LipidTox staining in MM cells</text>
<path d="M285,556.7 H509" stroke="#444" stroke-width="0.9"/>
<path d="M508,554.6 L513.5,556.7 L508,558.8 Z" fill="#333"/>
<rect x="298.5" y="564.5" width="6.4" height="6.4" fill="#cf2e52" fill-opacity="0.5" stroke="#cf2e52" stroke-width="0.9"/>
<text x="307.7" y="570.4" font-size="8.0" textLength="64.2" lengthAdjust="spacingAndGlyphs" fill="#262626" stroke="#262626" stroke-width="0.1">MM cells unstained</text>
<rect x="378.2" y="564.5" width="6.4" height="6.4" fill="#1f5f9a" fill-opacity="0.5" stroke="#1f5f9a" stroke-width="0.9"/>
<text x="387.3" y="570.2" font-size="8.0" textLength="85.6" lengthAdjust="spacingAndGlyphs" fill="#262626" stroke="#262626" stroke-width="0.1">MM cells co-cultured with</text>
<text x="387.3" y="579.2" font-size="8.0" textLength="125" lengthAdjust="spacingAndGlyphs" fill="#262626" stroke="#262626" stroke-width="0.1">OP9 adipocytes stained with LipidTox</text>
<rect x="378.2" y="586.2" width="6.4" height="6.4" fill="#3fb54e" fill-opacity="0.5" stroke="#3fb54e" stroke-width="0.9"/>
<text x="387.3" y="591.3" font-size="8.0" textLength="85.6" lengthAdjust="spacingAndGlyphs" fill="#262626" stroke="#262626" stroke-width="0.1">MM cells co-cultured with</text>
<text x="387.3" y="600.4" font-size="8.0" textLength="125" lengthAdjust="spacingAndGlyphs" fill="#262626" stroke="#262626" stroke-width="0.1">OP9 adipocytes stained with LipidTox</text>
<text x="387.3" y="609.2" font-size="8.0" textLength="89.4" lengthAdjust="spacingAndGlyphs" fill="#262626" stroke="#262626" stroke-width="0.1">and treated with acipomox</text>
<rect x="0.5" y="0.5" width="519" height="617" fill="none" stroke="#161214" stroke-width="1"/>
</svg>
</body></html>
